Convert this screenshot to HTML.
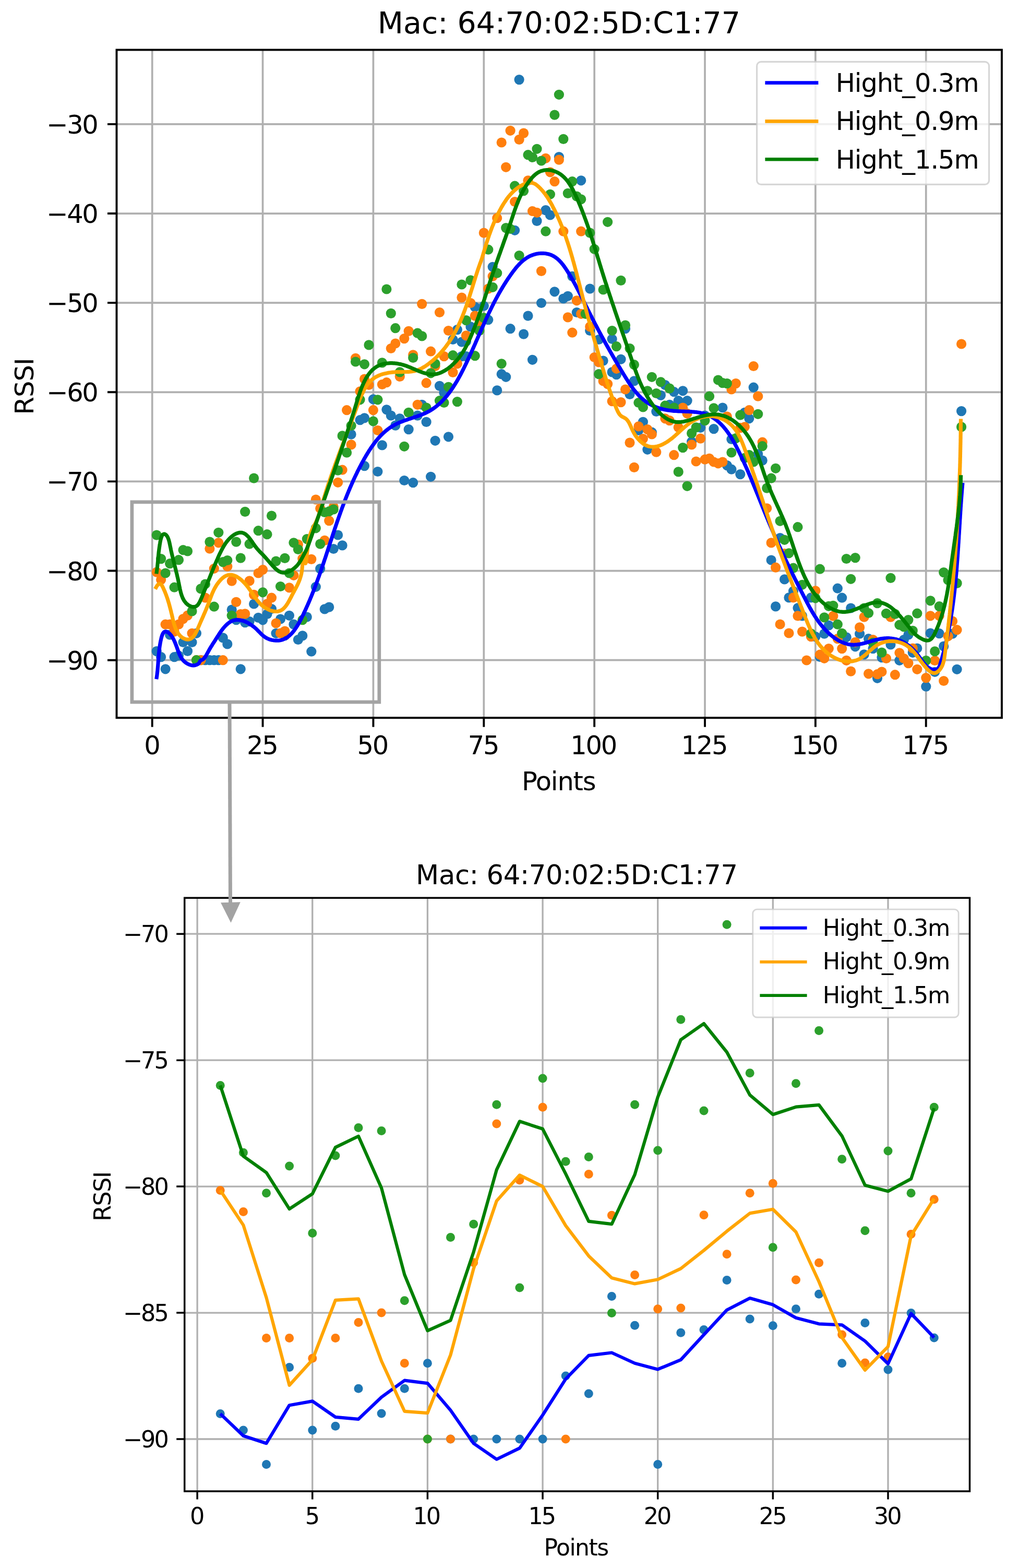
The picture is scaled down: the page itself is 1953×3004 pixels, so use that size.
<!DOCTYPE html><html><head><meta charset='utf-8'><style>html,body{margin:0;padding:0;background:#fff;width:1953px;height:3004px;overflow:hidden}</style></head><body><svg xmlns='http://www.w3.org/2000/svg' width='1953' height='3004' viewBox='0 0 1953 3004' style='display:block'>
<rect width='1953' height='3004' fill='#fff'/>
<clipPath id='c95'><rect x='223.5' y='95.5' width='1696.5' height='1279.7'/></clipPath>
<path d='M291.70 95.50V1375.20M503.56 95.50V1375.20M715.43 95.50V1375.20M927.30 95.50V1375.20M1139.16 95.50V1375.20M1351.03 95.50V1375.20M1562.89 95.50V1375.20M1774.76 95.50V1375.20M223.50 237.90H1920.00M223.50 409.03H1920.00M223.50 580.16H1920.00M223.50 751.29H1920.00M223.50 922.42H1920.00M223.50 1093.55H1920.00M223.50 1264.68H1920.00' stroke='#b0b0b0' stroke-width='3.7' fill='none'/>
<g clip-path='url(#c95)'>
<g fill='#1f77b4'><circle cx='300.2' cy='1247.6' r='9.6'/><circle cx='308.6' cy='1258.7' r='9.6'/><circle cx='317.1' cy='1281.8' r='9.6'/><circle cx='325.6' cy='1216.1' r='9.6'/><circle cx='334.1' cy='1258.7' r='9.6'/><circle cx='342.5' cy='1256.0' r='9.6'/><circle cx='351.0' cy='1230.5' r='9.6'/><circle cx='359.5' cy='1247.4' r='9.6'/><circle cx='368.0' cy='1230.5' r='9.6'/><circle cx='376.4' cy='1213.3' r='9.6'/><circle cx='384.9' cy='1264.7' r='9.6'/><circle cx='393.4' cy='1264.7' r='9.6'/><circle cx='401.9' cy='1264.7' r='9.6'/><circle cx='410.3' cy='1264.7' r='9.6'/><circle cx='418.8' cy='1264.7' r='9.6'/><circle cx='427.3' cy='1221.9' r='9.6'/><circle cx='435.8' cy='1233.9' r='9.6'/><circle cx='444.2' cy='1168.0' r='9.6'/><circle cx='452.7' cy='1187.7' r='9.6'/><circle cx='461.2' cy='1281.8' r='9.6'/><circle cx='469.7' cy='1192.6' r='9.6'/><circle cx='478.1' cy='1190.6' r='9.6'/><circle cx='486.6' cy='1157.0' r='9.6'/><circle cx='495.1' cy='1183.4' r='9.6'/><circle cx='503.6' cy='1187.8' r='9.6'/><circle cx='512.0' cy='1176.5' r='9.6'/><circle cx='520.5' cy='1166.5' r='9.6'/><circle cx='529.0' cy='1213.3' r='9.6'/><circle cx='537.5' cy='1186.0' r='9.6'/><circle cx='545.9' cy='1217.6' r='9.6'/><circle cx='554.4' cy='1179.3' r='9.6'/><circle cx='562.9' cy='1196.1' r='9.6'/><circle cx='571.4' cy='1225.5' r='9.6'/><circle cx='579.8' cy='1217.9' r='9.6'/><circle cx='588.3' cy='1182.0' r='9.6'/><circle cx='596.8' cy='1248.2' r='9.6'/><circle cx='605.3' cy='1124.3' r='9.6'/><circle cx='613.7' cy='1089.6' r='9.6'/><circle cx='622.2' cy='1166.9' r='9.6'/><circle cx='630.7' cy='1163.1' r='9.6'/><circle cx='639.2' cy='1051.5' r='9.6'/><circle cx='647.6' cy='1025.0' r='9.6'/><circle cx='656.1' cy='1044.9' r='9.6'/><circle cx='698.5' cy='892.6' r='9.6'/><circle cx='723.9' cy='903.5' r='9.6'/><circle cx='732.4' cy='852.9' r='9.6'/><circle cx='774.8' cy='920.5' r='9.6'/><circle cx='783.2' cy='822.6' r='9.6'/><circle cx='673.1' cy='832.1' r='9.6'/><circle cx='690.0' cy='804.7' r='9.6'/><circle cx='757.8' cy='815.1' r='9.6'/><circle cx='876.4' cy='631.6' r='9.6'/><circle cx='868.0' cy='650.5' r='9.6'/><circle cx='884.9' cy='655.2' r='9.6'/><circle cx='893.4' cy='682.6' r='9.6'/><circle cx='842.5' cy='739.4' r='9.6'/><circle cx='851.0' cy='752.6' r='9.6'/><circle cx='715.4' cy='764.9' r='9.6'/><circle cx='740.9' cy='784.8' r='9.6'/><circle cx='749.3' cy='796.1' r='9.6'/><circle cx='766.3' cy='801.8' r='9.6'/><circle cx='800.2' cy='796.1' r='9.6'/><circle cx='808.7' cy='775.3' r='9.6'/><circle cx='817.1' cy='808.4' r='9.6'/><circle cx='698.5' cy='800.8' r='9.6'/><circle cx='834.1' cy='844.3' r='9.6'/><circle cx='859.5' cy='836.8' r='9.6'/><circle cx='791.7' cy='924.7' r='9.6'/><circle cx='825.6' cy='913.3' r='9.6'/><circle cx='910.3' cy='588.1' r='9.6'/><circle cx='927.3' cy='586.2' r='9.6'/><circle cx='901.9' cy='625.9' r='9.6'/><circle cx='893.4' cy='654.3' r='9.6'/><circle cx='884.9' cy='682.6' r='9.6'/><circle cx='935.8' cy='612.7' r='9.6'/><circle cx='978.1' cy='629.7' r='9.6'/><circle cx='1003.6' cy='640.1' r='9.6'/><circle cx='1012.0' cy='605.1' r='9.6'/><circle cx='1037.5' cy='580.5' r='9.6'/><circle cx='1062.9' cy='558.8' r='9.6'/><circle cx='1079.8' cy='572.0' r='9.6'/><circle cx='1088.3' cy='567.3' r='9.6'/><circle cx='1105.3' cy='598.5' r='9.6'/><circle cx='1096.8' cy='529.4' r='9.6'/><circle cx='1020.5' cy='689.3' r='9.6'/><circle cx='961.2' cy='716.7' r='9.6'/><circle cx='969.7' cy='722.3' r='9.6'/><circle cx='952.7' cy='747.9' r='9.6'/><circle cx='995.1' cy='152.6' r='9.6'/><circle cx='1071.4' cy='300.5' r='9.6'/><circle cx='1113.7' cy='345.8' r='9.6'/><circle cx='1045.9' cy='402.6' r='9.6'/><circle cx='1054.4' cy='412.0' r='9.6'/><circle cx='1029.0' cy='423.4' r='9.6'/><circle cx='986.6' cy='441.3' r='9.6'/><circle cx='944.2' cy='511.3' r='9.6'/><circle cx='1130.7' cy='553.1' r='9.6'/><circle cx='1147.6' cy='650.5' r='9.6'/><circle cx='1173.1' cy='649.5' r='9.6'/><circle cx='1198.5' cy='629.7' r='9.6'/><circle cx='1156.1' cy='691.1' r='9.6'/><circle cx='1190.0' cy='688.3' r='9.6'/><circle cx='1173.1' cy='712.9' r='9.6'/><circle cx='1181.5' cy='717.6' r='9.6'/><circle cx='1215.4' cy='729.9' r='9.6'/><circle cx='1207.0' cy='755.4' r='9.6'/><circle cx='1266.3' cy='757.3' r='9.6'/><circle cx='1274.8' cy='737.5' r='9.6'/><circle cx='1291.7' cy='750.7' r='9.6'/><circle cx='1308.7' cy='748.8' r='9.6'/><circle cx='1317.1' cy='767.7' r='9.6'/><circle cx='1300.2' cy='767.7' r='9.6'/><circle cx='1283.2' cy='775.3' r='9.6'/><circle cx='1257.8' cy='788.5' r='9.6'/><circle cx='1232.4' cy='808.4' r='9.6'/><circle cx='1223.9' cy='824.5' r='9.6'/><circle cx='1249.3' cy='828.2' r='9.6'/><circle cx='1240.9' cy='861.3' r='9.6'/><circle cx='1325.6' cy='846.2' r='9.6'/><circle cx='1342.6' cy='819.3' r='9.6'/><circle cx='1130.7' cy='633.5' r='9.6'/><circle cx='1384.9' cy='781.0' r='9.6'/><circle cx='1444.2' cy='742.2' r='9.6'/><circle cx='1435.8' cy='801.8' r='9.6'/><circle cx='1427.3' cy='790.4' r='9.6'/><circle cx='1368.0' cy='821.6' r='9.6'/><circle cx='1401.9' cy='841.5' r='9.6'/><circle cx='1393.4' cy='891.6' r='9.6'/><circle cx='1401.9' cy='899.2' r='9.6'/><circle cx='1418.8' cy='908.6' r='9.6'/><circle cx='1452.7' cy='869.8' r='9.6'/><circle cx='1461.2' cy='882.1' r='9.6'/><circle cx='1351.0' cy='796.1' r='9.6'/><circle cx='1495.1' cy='1030.5' r='9.6'/><circle cx='1478.1' cy='1073.0' r='9.6'/><circle cx='1503.6' cy='1109.9' r='9.6'/><circle cx='1520.5' cy='1132.6' r='9.6'/><circle cx='1512.0' cy='1144.9' r='9.6'/><circle cx='1486.6' cy='1161.9' r='9.6'/><circle cx='1529.0' cy='1164.8' r='9.6'/><circle cx='1537.5' cy='1179.9' r='9.6'/><circle cx='1554.4' cy='1144.9' r='9.6'/><circle cx='1562.9' cy='1219.6' r='9.6'/><circle cx='1579.8' cy='1214.1' r='9.6'/><circle cx='1571.4' cy='1258.5' r='9.6'/><circle cx='1605.3' cy='1127.2' r='9.6'/><circle cx='1613.7' cy='1145.2' r='9.6'/><circle cx='1630.7' cy='1165.0' r='9.6'/><circle cx='1588.3' cy='1198.1' r='9.6'/><circle cx='1622.2' cy='1220.8' r='9.6'/><circle cx='1647.6' cy='1214.2' r='9.6'/><circle cx='1664.6' cy='1223.7' r='9.6'/><circle cx='1639.2' cy='1238.8' r='9.6'/><circle cx='1656.1' cy='1253.9' r='9.6'/><circle cx='1673.1' cy='1242.6' r='9.6'/><circle cx='1690.0' cy='1259.6' r='9.6'/><circle cx='1707.0' cy='1235.0' r='9.6'/><circle cx='1740.9' cy='1216.1' r='9.6'/><circle cx='1732.4' cy='1225.6' r='9.6'/><circle cx='1723.9' cy='1265.3' r='9.6'/><circle cx='1749.3' cy='1250.3' r='9.6'/><circle cx='1757.8' cy='1242.0' r='9.6'/><circle cx='1783.2' cy='1213.0' r='9.6'/><circle cx='1800.2' cy='1213.7' r='9.6'/><circle cx='1808.7' cy='1238.1' r='9.6'/><circle cx='1681.5' cy='1299.3' r='9.6'/><circle cx='1774.8' cy='1315.2' r='9.6'/><circle cx='1791.7' cy='1287.3' r='9.6'/><circle cx='1842.6' cy='787.6' r='9.6'/><circle cx='1825.6' cy='1214.2' r='9.6'/><circle cx='1834.1' cy='1282.3' r='9.6'/></g>
<g fill='#ff7f0e'><circle cx='300.2' cy='1096.1' r='9.6'/><circle cx='308.6' cy='1110.7' r='9.6'/><circle cx='317.1' cy='1196.2' r='9.6'/><circle cx='325.6' cy='1196.2' r='9.6'/><circle cx='334.1' cy='1209.9' r='9.6'/><circle cx='342.5' cy='1196.2' r='9.6'/><circle cx='351.0' cy='1185.6' r='9.6'/><circle cx='359.5' cy='1179.1' r='9.6'/><circle cx='368.0' cy='1213.3' r='9.6'/><circle cx='376.4' cy='1264.7' r='9.6'/><circle cx='384.9' cy='1264.7' r='9.6'/><circle cx='393.4' cy='1145.1' r='9.6'/><circle cx='401.9' cy='1051.1' r='9.6'/><circle cx='410.3' cy='1089.3' r='9.6'/><circle cx='418.8' cy='1039.8' r='9.6'/><circle cx='427.3' cy='1264.7' r='9.6'/><circle cx='435.8' cy='1085.2' r='9.6'/><circle cx='444.2' cy='1113.1' r='9.6'/><circle cx='452.7' cy='1153.4' r='9.6'/><circle cx='461.2' cy='1176.5' r='9.6'/><circle cx='469.7' cy='1175.9' r='9.6'/><circle cx='478.1' cy='1112.9' r='9.6'/><circle cx='486.6' cy='1139.4' r='9.6'/><circle cx='495.1' cy='1098.0' r='9.6'/><circle cx='503.6' cy='1091.5' r='9.6'/><circle cx='512.0' cy='1156.9' r='9.6'/><circle cx='520.5' cy='1145.2' r='9.6'/><circle cx='529.0' cy='1194.0' r='9.6'/><circle cx='537.5' cy='1213.0' r='9.6'/><circle cx='545.9' cy='1209.1' r='9.6'/><circle cx='554.4' cy='1125.9' r='9.6'/><circle cx='562.9' cy='1102.3' r='9.6'/><circle cx='579.8' cy='1070.4' r='9.6'/><circle cx='596.8' cy='1071.4' r='9.6'/><circle cx='571.4' cy='1043.0' r='9.6'/><circle cx='622.2' cy='1035.4' r='9.6'/><circle cx='630.7' cy='997.6' r='9.6'/><circle cx='605.3' cy='957.0' r='9.6'/><circle cx='613.7' cy='974.0' r='9.6'/><circle cx='639.2' cy='971.1' r='9.6'/><circle cx='647.6' cy='924.3' r='9.6'/><circle cx='656.1' cy='900.2' r='9.6'/><circle cx='673.1' cy='851.9' r='9.6'/><circle cx='723.9' cy='824.5' r='9.6'/><circle cx='664.6' cy='785.7' r='9.6'/><circle cx='681.5' cy='686.4' r='9.6'/><circle cx='690.0' cy='749.8' r='9.6'/><circle cx='698.5' cy='726.1' r='9.6'/><circle cx='707.0' cy='737.5' r='9.6'/><circle cx='715.4' cy='785.7' r='9.6'/><circle cx='732.4' cy='736.5' r='9.6'/><circle cx='740.9' cy='732.7' r='9.6'/><circle cx='749.3' cy='667.5' r='9.6'/><circle cx='757.8' cy='658.0' r='9.6'/><circle cx='766.3' cy='721.4' r='9.6'/><circle cx='774.8' cy='648.6' r='9.6'/><circle cx='783.2' cy='634.4' r='9.6'/><circle cx='791.7' cy='679.8' r='9.6'/><circle cx='800.2' cy='775.3' r='9.6'/><circle cx='808.7' cy='582.4' r='9.6'/><circle cx='817.1' cy='733.7' r='9.6'/><circle cx='825.6' cy='673.2' r='9.6'/><circle cx='834.1' cy='701.5' r='9.6'/><circle cx='842.5' cy='598.5' r='9.6'/><circle cx='851.0' cy='682.6' r='9.6'/><circle cx='859.5' cy='633.5' r='9.6'/><circle cx='868.0' cy='713.4' r='9.6'/><circle cx='876.4' cy='696.8' r='9.6'/><circle cx='884.9' cy='570.1' r='9.6'/><circle cx='944.2' cy='529.4' r='9.6'/><circle cx='901.9' cy='580.5' r='9.6'/><circle cx='935.8' cy='553.1' r='9.6'/><circle cx='910.3' cy='605.1' r='9.6'/><circle cx='918.8' cy='622.1' r='9.6'/><circle cx='893.4' cy='642.9' r='9.6'/><circle cx='1037.5' cy='519.4' r='9.6'/><circle cx='1105.3' cy='575.8' r='9.6'/><circle cx='1088.3' cy='607.9' r='9.6'/><circle cx='1096.8' cy='637.2' r='9.6'/><circle cx='978.1' cy='250.3' r='9.6'/><circle cx='1003.6' cy='255.1' r='9.6'/><circle cx='995.1' cy='267.4' r='9.6'/><circle cx='961.2' cy='273.0' r='9.6'/><circle cx='1045.9' cy='303.3' r='9.6'/><circle cx='1071.4' cy='306.1' r='9.6'/><circle cx='969.7' cy='320.3' r='9.6'/><circle cx='1054.4' cy='329.8' r='9.6'/><circle cx='1062.9' cy='347.7' r='9.6'/><circle cx='1012.0' cy='345.8' r='9.6'/><circle cx='986.6' cy='386.5' r='9.6'/><circle cx='1020.5' cy='404.5' r='9.6'/><circle cx='1029.0' cy='407.3' r='9.6'/><circle cx='952.7' cy='417.7' r='9.6'/><circle cx='927.3' cy='446.1' r='9.6'/><circle cx='1079.8' cy='443.2' r='9.6'/><circle cx='1113.7' cy='443.2' r='9.6'/><circle cx='1113.7' cy='601.3' r='9.6'/><circle cx='1130.7' cy='625.9' r='9.6'/><circle cx='1139.2' cy='684.5' r='9.6'/><circle cx='1147.6' cy='694.0' r='9.6'/><circle cx='1181.5' cy='706.3' r='9.6'/><circle cx='1156.1' cy='729.9' r='9.6'/><circle cx='1164.6' cy='735.6' r='9.6'/><circle cx='1198.5' cy='746.0' r='9.6'/><circle cx='1173.1' cy='768.7' r='9.6'/><circle cx='1190.0' cy='770.6' r='9.6'/><circle cx='1308.7' cy='781.0' r='9.6'/><circle cx='1317.1' cy='792.3' r='9.6'/><circle cx='1274.8' cy='801.8' r='9.6'/><circle cx='1283.2' cy='805.6' r='9.6'/><circle cx='1300.2' cy='818.8' r='9.6'/><circle cx='1223.9' cy='816.9' r='9.6'/><circle cx='1240.9' cy='822.6' r='9.6'/><circle cx='1249.3' cy='832.0' r='9.6'/><circle cx='1232.4' cy='840.5' r='9.6'/><circle cx='1207.0' cy='848.1' r='9.6'/><circle cx='1257.8' cy='866.1' r='9.6'/><circle cx='1291.7' cy='871.7' r='9.6'/><circle cx='1325.6' cy='851.9' r='9.6'/><circle cx='1342.6' cy='840.1' r='9.6'/><circle cx='1334.1' cy='884.0' r='9.6'/><circle cx='1215.4' cy='895.4' r='9.6'/><circle cx='1444.2' cy='701.5' r='9.6'/><circle cx='1410.3' cy='734.6' r='9.6'/><circle cx='1401.9' cy='746.0' r='9.6'/><circle cx='1452.7' cy='759.2' r='9.6'/><circle cx='1435.8' cy='785.7' r='9.6'/><circle cx='1393.4' cy='798.0' r='9.6'/><circle cx='1427.3' cy='817.8' r='9.6'/><circle cx='1418.8' cy='819.7' r='9.6'/><circle cx='1351.0' cy='880.2' r='9.6'/><circle cx='1359.5' cy='878.4' r='9.6'/><circle cx='1368.0' cy='885.0' r='9.6'/><circle cx='1376.4' cy='887.8' r='9.6'/><circle cx='1384.9' cy='885.0' r='9.6'/><circle cx='1461.2' cy='847.2' r='9.6'/><circle cx='1469.7' cy='973.8' r='9.6'/><circle cx='1478.1' cy='1039.9' r='9.6'/><circle cx='1503.6' cy='1060.7' r='9.6'/><circle cx='1486.6' cy='1087.2' r='9.6'/><circle cx='1520.5' cy='1144.9' r='9.6'/><circle cx='1529.0' cy='1179.9' r='9.6'/><circle cx='1495.1' cy='1196.0' r='9.6'/><circle cx='1512.0' cy='1213.0' r='9.6'/><circle cx='1537.5' cy='1210.1' r='9.6'/><circle cx='1554.4' cy='1219.6' r='9.6'/><circle cx='1562.9' cy='1131.8' r='9.6'/><circle cx='1571.4' cy='1254.2' r='9.6'/><circle cx='1579.8' cy='1261.3' r='9.6'/><circle cx='1545.9' cy='1265.0' r='9.6'/><circle cx='1596.8' cy='1180.2' r='9.6'/><circle cx='1656.1' cy='1182.1' r='9.6'/><circle cx='1647.6' cy='1201.9' r='9.6'/><circle cx='1707.0' cy='1182.1' r='9.6'/><circle cx='1783.2' cy='1179.8' r='9.6'/><circle cx='1800.2' cy='1179.8' r='9.6'/><circle cx='1588.3' cy='1242.6' r='9.6'/><circle cx='1613.7' cy='1242.6' r='9.6'/><circle cx='1605.3' cy='1223.7' r='9.6'/><circle cx='1639.2' cy='1230.3' r='9.6'/><circle cx='1673.1' cy='1225.6' r='9.6'/><circle cx='1622.2' cy='1265.3' r='9.6'/><circle cx='1630.7' cy='1286.1' r='9.6'/><circle cx='1664.6' cy='1290.8' r='9.6'/><circle cx='1681.5' cy='1291.7' r='9.6'/><circle cx='1690.0' cy='1287.0' r='9.6'/><circle cx='1715.4' cy='1292.7' r='9.6'/><circle cx='1698.5' cy='1261.5' r='9.6'/><circle cx='1723.9' cy='1250.8' r='9.6'/><circle cx='1732.4' cy='1261.5' r='9.6'/><circle cx='1740.9' cy='1270.6' r='9.6'/><circle cx='1749.3' cy='1242.0' r='9.6'/><circle cx='1757.8' cy='1282.3' r='9.6'/><circle cx='1774.8' cy='1298.6' r='9.6'/><circle cx='1791.7' cy='1265.5' r='9.6'/><circle cx='1808.7' cy='1304.5' r='9.6'/><circle cx='1842.6' cy='659.0' r='9.6'/><circle cx='1825.6' cy='1190.0' r='9.6'/><circle cx='1834.1' cy='1206.7' r='9.6'/><circle cx='1817.1' cy='1218.8' r='9.6'/></g>
<g fill='#2ca02c'><circle cx='300.2' cy='1025.1' r='9.6'/><circle cx='308.6' cy='1070.6' r='9.6'/><circle cx='317.1' cy='1098.0' r='9.6'/><circle cx='325.6' cy='1079.7' r='9.6'/><circle cx='334.1' cy='1125.2' r='9.6'/><circle cx='342.5' cy='1072.7' r='9.6'/><circle cx='351.0' cy='1053.7' r='9.6'/><circle cx='359.5' cy='1055.9' r='9.6'/><circle cx='368.0' cy='1170.9' r='9.6'/><circle cx='376.4' cy='1264.7' r='9.6'/><circle cx='384.9' cy='1127.9' r='9.6'/><circle cx='393.4' cy='1119.0' r='9.6'/><circle cx='401.9' cy='1038.1' r='9.6'/><circle cx='410.3' cy='1162.2' r='9.6'/><circle cx='418.8' cy='1020.3' r='9.6'/><circle cx='427.3' cy='1076.6' r='9.6'/><circle cx='435.8' cy='1073.5' r='9.6'/><circle cx='444.2' cy='1179.3' r='9.6'/><circle cx='452.7' cy='1038.1' r='9.6'/><circle cx='461.2' cy='1069.1' r='9.6'/><circle cx='469.7' cy='980.4' r='9.6'/><circle cx='478.1' cy='1042.2' r='9.6'/><circle cx='486.6' cy='916.1' r='9.6'/><circle cx='495.1' cy='1016.7' r='9.6'/><circle cx='503.6' cy='1134.8' r='9.6'/><circle cx='512.0' cy='1023.7' r='9.6'/><circle cx='520.5' cy='988.0' r='9.6'/><circle cx='529.0' cy='1075.1' r='9.6'/><circle cx='537.5' cy='1123.5' r='9.6'/><circle cx='545.9' cy='1069.4' r='9.6'/><circle cx='554.4' cy='1098.0' r='9.6'/><circle cx='562.9' cy='1039.8' r='9.6'/><circle cx='571.4' cy='1052.5' r='9.6'/><circle cx='588.3' cy='1032.6' r='9.6'/><circle cx='579.8' cy='1187.7' r='9.6'/><circle cx='605.3' cy='1011.8' r='9.6'/><circle cx='613.7' cy='1042.1' r='9.6'/><circle cx='622.2' cy='981.5' r='9.6'/><circle cx='630.7' cy='979.7' r='9.6'/><circle cx='639.2' cy='975.9' r='9.6'/><circle cx='647.6' cy='901.1' r='9.6'/><circle cx='664.6' cy='867.1' r='9.6'/><circle cx='656.1' cy='834.9' r='9.6'/><circle cx='673.1' cy='815.5' r='9.6'/><circle cx='715.4' cy='807.0' r='9.6'/><circle cx='774.8' cy='855.3' r='9.6'/><circle cx='681.5' cy='693.0' r='9.6'/><circle cx='690.0' cy='765.8' r='9.6'/><circle cx='698.5' cy='697.8' r='9.6'/><circle cx='707.0' cy='660.9' r='9.6'/><circle cx='723.9' cy='765.8' r='9.6'/><circle cx='732.4' cy='694.9' r='9.6'/><circle cx='740.9' cy='554.0' r='9.6'/><circle cx='749.3' cy='600.4' r='9.6'/><circle cx='757.8' cy='628.7' r='9.6'/><circle cx='766.3' cy='712.9' r='9.6'/><circle cx='783.2' cy='790.4' r='9.6'/><circle cx='791.7' cy='685.5' r='9.6'/><circle cx='800.2' cy='638.2' r='9.6'/><circle cx='808.7' cy='643.9' r='9.6'/><circle cx='817.1' cy='781.0' r='9.6'/><circle cx='825.6' cy='714.8' r='9.6'/><circle cx='834.1' cy='696.8' r='9.6'/><circle cx='842.5' cy='767.7' r='9.6'/><circle cx='851.0' cy='771.5' r='9.6'/><circle cx='859.5' cy='741.3' r='9.6'/><circle cx='868.0' cy='680.7' r='9.6'/><circle cx='876.4' cy='769.6' r='9.6'/><circle cx='884.9' cy='545.0' r='9.6'/><circle cx='901.9' cy='536.9' r='9.6'/><circle cx='952.7' cy='523.2' r='9.6'/><circle cx='944.2' cy='550.3' r='9.6'/><circle cx='893.4' cy='613.6' r='9.6'/><circle cx='927.3' cy='608.9' r='9.6'/><circle cx='918.8' cy='633.5' r='9.6'/><circle cx='910.3' cy='681.7' r='9.6'/><circle cx='961.2' cy='696.8' r='9.6'/><circle cx='1071.4' cy='181.3' r='9.6'/><circle cx='1062.9' cy='220.1' r='9.6'/><circle cx='1079.8' cy='266.4' r='9.6'/><circle cx='1029.0' cy='285.3' r='9.6'/><circle cx='1012.0' cy='296.7' r='9.6'/><circle cx='1020.5' cy='301.4' r='9.6'/><circle cx='1037.5' cy='308.0' r='9.6'/><circle cx='986.6' cy='356.2' r='9.6'/><circle cx='1003.6' cy='365.7' r='9.6'/><circle cx='1054.4' cy='372.3' r='9.6'/><circle cx='1096.8' cy='347.7' r='9.6'/><circle cx='1088.3' cy='370.4' r='9.6'/><circle cx='1105.3' cy='376.1' r='9.6'/><circle cx='1113.7' cy='381.8' r='9.6'/><circle cx='969.7' cy='436.6' r='9.6'/><circle cx='978.1' cy='438.5' r='9.6'/><circle cx='1045.9' cy='443.2' r='9.6'/><circle cx='935.8' cy='478.2' r='9.6'/><circle cx='995.1' cy='489.6' r='9.6'/><circle cx='1164.6' cy='425.3' r='9.6'/><circle cx='1130.7' cy='446.1' r='9.6'/><circle cx='1139.2' cy='477.3' r='9.6'/><circle cx='1190.0' cy='537.4' r='9.6'/><circle cx='1156.1' cy='555.0' r='9.6'/><circle cx='1122.2' cy='601.3' r='9.6'/><circle cx='1173.1' cy='633.5' r='9.6'/><circle cx='1198.5' cy='623.1' r='9.6'/><circle cx='1181.5' cy='663.7' r='9.6'/><circle cx='1207.0' cy='667.5' r='9.6'/><circle cx='1215.4' cy='698.7' r='9.6'/><circle cx='1147.6' cy='716.7' r='9.6'/><circle cx='1249.3' cy='722.3' r='9.6'/><circle cx='1266.3' cy='731.8' r='9.6'/><circle cx='1283.2' cy='744.1' r='9.6'/><circle cx='1240.9' cy='748.8' r='9.6'/><circle cx='1257.8' cy='753.5' r='9.6'/><circle cx='1223.9' cy='771.5' r='9.6'/><circle cx='1232.4' cy='780.0' r='9.6'/><circle cx='1274.8' cy='777.2' r='9.6'/><circle cx='1291.7' cy='781.0' r='9.6'/><circle cx='1325.6' cy='830.1' r='9.6'/><circle cx='1334.1' cy='818.8' r='9.6'/><circle cx='1308.7' cy='857.6' r='9.6'/><circle cx='1300.2' cy='903.9' r='9.6'/><circle cx='1317.1' cy='931.3' r='9.6'/><circle cx='1376.4' cy='728.0' r='9.6'/><circle cx='1384.9' cy='733.7' r='9.6'/><circle cx='1393.4' cy='734.6' r='9.6'/><circle cx='1359.5' cy='759.2' r='9.6'/><circle cx='1368.0' cy='781.9' r='9.6'/><circle cx='1418.8' cy='795.2' r='9.6'/><circle cx='1452.7' cy='793.3' r='9.6'/><circle cx='1410.3' cy='839.6' r='9.6'/><circle cx='1401.9' cy='867.0' r='9.6'/><circle cx='1435.8' cy='871.7' r='9.6'/><circle cx='1427.3' cy='877.4' r='9.6'/><circle cx='1444.2' cy='885.0' r='9.6'/><circle cx='1461.2' cy='854.7' r='9.6'/><circle cx='1486.6' cy='897.3' r='9.6'/><circle cx='1478.1' cy='916.2' r='9.6'/><circle cx='1469.7' cy='935.1' r='9.6'/><circle cx='1351.0' cy='805.6' r='9.6'/><circle cx='1495.1' cy='998.3' r='9.6'/><circle cx='1529.0' cy='1009.7' r='9.6'/><circle cx='1503.6' cy='1034.3' r='9.6'/><circle cx='1512.0' cy='1059.8' r='9.6'/><circle cx='1520.5' cy='1088.2' r='9.6'/><circle cx='1537.5' cy='1120.3' r='9.6'/><circle cx='1562.9' cy='1145.8' r='9.6'/><circle cx='1571.4' cy='1090.2' r='9.6'/><circle cx='1579.8' cy='1182.9' r='9.6'/><circle cx='1554.4' cy='1213.9' r='9.6'/><circle cx='1622.2' cy='1070.5' r='9.6'/><circle cx='1639.2' cy='1068.6' r='9.6'/><circle cx='1630.7' cy='1109.3' r='9.6'/><circle cx='1707.0' cy='1107.4' r='9.6'/><circle cx='1783.2' cy='1150.8' r='9.6'/><circle cx='1800.2' cy='1161.7' r='9.6'/><circle cx='1808.7' cy='1096.6' r='9.6'/><circle cx='1596.8' cy='1160.3' r='9.6'/><circle cx='1588.3' cy='1161.3' r='9.6'/><circle cx='1605.3' cy='1196.2' r='9.6'/><circle cx='1613.7' cy='1213.3' r='9.6'/><circle cx='1664.6' cy='1174.5' r='9.6'/><circle cx='1656.1' cy='1165.0' r='9.6'/><circle cx='1681.5' cy='1155.6' r='9.6'/><circle cx='1698.5' cy='1175.4' r='9.6'/><circle cx='1715.4' cy='1176.4' r='9.6'/><circle cx='1740.9' cy='1187.6' r='9.6'/><circle cx='1757.8' cy='1175.2' r='9.6'/><circle cx='1723.9' cy='1197.2' r='9.6'/><circle cx='1732.4' cy='1201.0' r='9.6'/><circle cx='1749.3' cy='1208.4' r='9.6'/><circle cx='1673.1' cy='1231.2' r='9.6'/><circle cx='1690.0' cy='1250.1' r='9.6'/><circle cx='1774.8' cy='1265.5' r='9.6'/><circle cx='1791.7' cy='1247.9' r='9.6'/><circle cx='1842.6' cy='817.9' r='9.6'/><circle cx='1817.1' cy='1111.3' r='9.6'/><circle cx='1834.1' cy='1117.4' r='9.6'/></g>
<path d='M299.7 1301.1 L300.1 1299.0 L300.4 1296.9 L300.7 1294.9 L301.0 1292.9 L301.2 1290.8 L301.4 1288.9 L301.7 1286.9 L301.9 1284.9 L302.1 1283.0 L302.2 1281.1 L302.4 1279.2 L302.5 1277.3 L302.7 1275.4 L302.8 1273.5 L303.0 1271.6 L303.1 1269.8 L303.2 1267.9 L303.4 1266.0 L303.5 1264.2 L303.6 1262.3 L303.8 1260.4 L303.9 1258.5 L304.1 1256.7 L304.2 1254.8 L304.4 1252.8 L304.6 1250.9 L304.8 1249.0 L305.0 1247.0 L305.2 1245.1 L305.5 1243.1 L305.7 1241.1 L306.0 1239.0 L306.3 1237.0 L306.7 1234.9 L307.0 1232.7 L307.4 1230.6 L307.8 1228.4 L308.3 1226.2 L308.8 1224.0 L309.3 1221.8 L309.9 1219.7 L310.5 1217.7 L311.2 1215.9 L312.0 1214.2 L312.8 1212.7 L313.8 1211.5 L314.8 1210.6 L316.0 1210.1 L317.3 1209.9 L318.6 1210.0 L320.1 1210.5 L321.5 1211.3 L322.9 1212.2 L324.2 1213.2 L325.5 1214.4 L326.7 1215.8 L327.9 1217.2 L329.0 1218.7 L330.1 1220.4 L331.1 1222.1 L332.1 1223.9 L333.1 1225.8 L334.0 1227.7 L334.8 1229.6 L335.7 1231.6 L336.5 1233.7 L337.3 1235.7 L338.0 1237.7 L338.8 1239.7 L339.5 1241.7 L340.2 1243.7 L340.9 1245.7 L341.6 1247.6 L342.3 1249.5 L343.0 1251.3 L343.7 1253.1 L344.5 1254.9 L345.4 1256.6 L346.2 1258.3 L347.2 1259.9 L348.2 1261.5 L349.3 1263.0 L350.5 1264.4 L351.7 1265.8 L353.1 1267.2 L354.6 1268.4 L356.1 1269.6 L357.7 1270.7 L359.4 1271.7 L361.1 1272.5 L362.9 1273.3 L364.6 1273.9 L366.4 1274.4 L368.1 1274.7 L369.8 1274.9 L371.4 1274.9 L373.0 1274.7 L374.6 1274.3 L376.0 1273.9 L377.2 1273.4 L378.4 1272.8 L379.3 1272.3 L380.2 1271.7 L380.9 1271.0 L381.4 1270.3 L382.0 1269.5 L382.4 1268.7 L382.8 1267.9 L383.2 1267.2 L383.6 1266.4 L384.0 1265.8 L384.4 1265.3 L384.9 1265.0 L385.5 1264.8 L386.2 1264.6 L386.9 1264.4 L387.7 1264.0 L388.6 1263.4 L389.6 1262.7 L390.6 1261.8 L391.6 1260.7 L392.7 1259.3 L393.8 1257.8 L394.9 1256.1 L395.9 1254.2 L397.0 1252.3 L398.1 1250.3 L399.1 1248.4 L400.2 1246.4 L401.2 1244.6 L402.2 1242.9 L403.2 1241.2 L404.2 1239.5 L405.2 1237.9 L406.2 1236.4 L407.1 1234.8 L408.1 1233.3 L409.1 1231.8 L410.1 1230.3 L411.1 1228.7 L412.1 1227.2 L413.1 1225.5 L414.1 1223.9 L415.2 1222.2 L416.3 1220.5 L417.4 1218.8 L418.5 1217.1 L419.6 1215.3 L420.7 1213.6 L421.9 1211.9 L423.1 1210.1 L424.3 1208.4 L425.6 1206.7 L426.8 1205.1 L428.1 1203.5 L429.4 1201.9 L430.8 1200.4 L432.2 1198.9 L433.6 1197.5 L435.0 1196.1 L436.5 1194.9 L438.0 1193.7 L439.5 1192.6 L441.0 1191.5 L442.6 1190.6 L444.3 1189.8 L445.9 1189.1 L447.7 1188.5 L449.4 1188.1 L451.2 1187.8 L453.0 1187.6 L454.9 1187.5 L456.7 1187.6 L458.7 1187.8 L460.6 1188.1 L462.5 1188.5 L464.5 1189.0 L466.4 1189.6 L468.4 1190.3 L470.3 1191.1 L472.2 1191.9 L474.1 1192.8 L476.0 1193.8 L477.8 1194.9 L479.6 1196.0 L481.3 1197.1 L483.0 1198.3 L484.6 1199.5 L486.2 1200.7 L487.7 1201.9 L489.2 1203.2 L490.5 1204.4 L491.9 1205.7 L493.2 1207.0 L494.4 1208.3 L495.7 1209.5 L496.9 1210.8 L498.1 1212.0 L499.3 1213.2 L500.5 1214.4 L501.7 1215.6 L502.9 1216.7 L504.2 1217.8 L505.5 1218.8 L506.8 1219.8 L508.2 1220.8 L509.6 1221.7 L511.1 1222.5 L512.6 1223.3 L514.2 1224.0 L515.9 1224.7 L517.6 1225.2 L519.3 1225.7 L521.1 1226.2 L522.9 1226.5 L524.7 1226.8 L526.6 1227.0 L528.4 1227.2 L530.3 1227.2 L532.1 1227.2 L533.9 1227.1 L535.7 1226.9 L537.5 1226.6 L539.2 1226.2 L540.9 1225.7 L542.5 1225.2 L544.1 1224.5 L545.7 1223.8 L547.2 1223.0 L548.7 1222.1 L550.2 1221.2 L551.7 1220.2 L553.1 1219.1 L554.4 1218.0 L555.8 1216.8 L557.1 1215.5 L558.4 1214.2 L559.7 1212.8 L560.9 1211.4 L562.1 1209.9 L563.3 1208.4 L564.5 1206.9 L565.6 1205.3 L566.7 1203.6 L567.8 1202.0 L568.9 1200.3 L570.0 1198.5 L571.0 1196.8 L572.1 1195.0 L573.1 1193.2 L574.1 1191.4 L575.0 1189.6 L576.0 1187.7 L577.0 1185.9 L577.9 1184.0 L578.8 1182.1 L579.7 1180.2 L580.7 1178.4 L581.6 1176.5 L582.4 1174.6 L583.3 1172.7 L584.2 1170.9 L585.1 1169.0 L585.9 1167.2 L586.8 1165.3 L587.6 1163.4 L588.4 1161.6 L589.3 1159.7 L590.1 1157.9 L590.9 1156.0 L591.7 1154.2 L592.5 1152.3 L593.3 1150.5 L594.1 1148.6 L594.8 1146.8 L595.6 1144.9 L596.4 1143.1 L597.1 1141.3 L597.9 1139.4 L598.6 1137.6 L599.3 1135.8 L600.1 1133.9 L600.8 1132.1 L601.5 1130.3 L602.2 1128.4 L602.9 1126.6 L603.6 1124.8 L604.3 1122.9 L605.0 1121.1 L605.7 1119.3 L606.4 1117.5 L607.1 1115.6 L607.7 1113.8 L608.4 1112.0 L609.1 1110.1 L609.7 1108.3 L610.4 1106.5 L611.1 1104.7 L611.7 1102.8 L612.4 1101.0 L613.0 1099.2 L613.6 1097.4 L614.3 1095.5 L614.9 1093.7 L615.5 1091.9 L616.2 1090.1 L616.8 1088.2 L617.4 1086.4 L618.0 1084.6 L618.7 1082.8 L619.3 1080.9 L619.9 1079.1 L620.5 1077.3 L621.1 1075.5 L621.7 1073.6 L622.3 1071.8 L623.0 1070.0 L623.6 1068.1 L624.2 1066.3 L624.8 1064.5 L625.4 1062.6 L626.0 1060.8 L626.6 1058.9 L627.2 1057.1 L627.8 1055.3 L628.4 1053.4 L629.0 1051.6 L629.6 1049.7 L630.2 1047.9 L630.8 1046.0 L631.4 1044.2 L632.0 1042.4 L632.6 1040.5 L633.2 1038.7 L633.8 1036.8 L634.5 1035.0 L635.1 1033.1 L635.7 1031.3 L636.3 1029.4 L636.9 1027.6 L637.5 1025.7 L638.1 1023.8 L638.7 1022.0 L639.3 1020.1 L640.0 1018.3 L640.6 1016.4 L641.2 1014.6 L641.8 1012.7 L642.4 1010.9 L643.1 1009.0 L643.7 1007.2 L644.3 1005.3 L645.0 1003.5 L645.6 1001.6 L646.2 999.7 L646.9 997.9 L647.5 996.0 L648.2 994.2 L648.8 992.3 L649.5 990.5 L650.1 988.6 L650.8 986.8 L651.4 984.9 L652.1 983.1 L652.7 981.2 L653.4 979.4 L654.1 977.5 L654.8 975.7 L655.4 973.8 L656.1 972.0 L656.8 970.2 L657.5 968.3 L658.2 966.5 L658.9 964.6 L659.6 962.8 L660.3 960.9 L661.0 959.1 L661.7 957.3 L662.4 955.4 L663.1 953.6 L663.9 951.8 L664.6 949.9 L665.3 948.1 L666.1 946.3 L666.8 944.5 L667.6 942.6 L668.3 940.8 L669.1 939.0 L669.9 937.2 L670.6 935.3 L671.4 933.5 L672.2 931.7 L673.0 929.9 L673.8 928.1 L674.6 926.3 L675.4 924.5 L676.2 922.6 L677.0 920.8 L677.8 919.0 L678.7 917.2 L679.5 915.4 L680.3 913.6 L681.2 911.9 L682.0 910.1 L682.9 908.3 L683.8 906.5 L684.6 904.7 L685.5 902.9 L686.4 901.1 L687.3 899.4 L688.2 897.6 L689.1 895.8 L690.0 894.0 L691.0 892.3 L691.9 890.5 L692.8 888.7 L693.8 887.0 L694.7 885.2 L695.7 883.5 L696.7 881.7 L697.6 880.0 L698.6 878.2 L699.6 876.5 L700.6 874.8 L701.6 873.0 L702.7 871.3 L703.7 869.6 L704.7 867.9 L705.8 866.2 L706.8 864.5 L707.9 862.8 L709.0 861.2 L710.1 859.5 L711.2 857.8 L712.3 856.2 L713.5 854.6 L714.6 853.0 L715.8 851.4 L716.9 849.8 L718.1 848.2 L719.3 846.7 L720.5 845.1 L721.7 843.6 L723.0 842.1 L724.2 840.6 L725.5 839.2 L726.8 837.7 L728.1 836.3 L729.4 834.9 L730.7 833.5 L732.1 832.2 L733.5 830.9 L734.8 829.5 L736.2 828.3 L737.7 827.0 L739.1 825.8 L740.5 824.6 L742.0 823.4 L743.5 822.2 L745.0 821.1 L746.5 820.0 L748.1 818.9 L749.7 817.9 L751.3 816.9 L752.9 815.9 L754.5 815.0 L756.1 814.1 L757.8 813.2 L759.5 812.3 L761.2 811.5 L762.9 810.7 L764.7 809.9 L766.4 809.2 L768.2 808.5 L770.0 807.8 L771.8 807.1 L773.6 806.4 L775.4 805.7 L777.2 805.1 L779.0 804.5 L780.9 803.8 L782.7 803.2 L784.5 802.6 L786.4 802.0 L788.2 801.4 L790.1 800.8 L791.9 800.2 L793.7 799.5 L795.6 798.9 L797.4 798.3 L799.2 797.7 L801.1 797.0 L802.9 796.4 L804.7 795.7 L806.5 795.1 L808.3 794.4 L810.0 793.6 L811.8 792.9 L813.5 792.2 L815.3 791.4 L817.0 790.6 L818.7 789.7 L820.3 788.9 L822.0 788.0 L823.6 787.1 L825.2 786.1 L826.8 785.1 L828.4 784.1 L830.0 783.1 L831.5 782.0 L833.0 780.9 L834.5 779.8 L836.0 778.7 L837.4 777.5 L838.9 776.3 L840.3 775.1 L841.7 773.8 L843.1 772.6 L844.5 771.3 L845.9 770.0 L847.2 768.6 L848.5 767.3 L849.8 765.9 L851.1 764.5 L852.4 763.0 L853.7 761.6 L854.9 760.1 L856.2 758.7 L857.4 757.2 L858.6 755.6 L859.8 754.1 L861.0 752.6 L862.1 751.0 L863.3 749.4 L864.4 747.8 L865.5 746.2 L866.7 744.6 L867.8 742.9 L868.8 741.3 L869.9 739.6 L871.0 737.9 L872.0 736.2 L873.1 734.5 L874.1 732.8 L875.2 731.1 L876.2 729.4 L877.2 727.6 L878.2 725.9 L879.1 724.1 L880.1 722.4 L881.1 720.6 L882.0 718.8 L883.0 717.1 L883.9 715.3 L884.9 713.5 L885.8 711.7 L886.7 709.9 L887.6 708.1 L888.5 706.3 L889.4 704.5 L890.3 702.7 L891.2 700.8 L892.1 699.0 L893.0 697.2 L893.8 695.4 L894.7 693.6 L895.5 691.8 L896.4 690.0 L897.2 688.2 L898.1 686.4 L898.9 684.6 L899.7 682.8 L900.6 681.0 L901.4 679.1 L902.2 677.3 L903.0 675.5 L903.9 673.7 L904.7 671.9 L905.5 670.1 L906.3 668.3 L907.1 666.5 L907.9 664.7 L908.7 662.9 L909.5 661.2 L910.3 659.4 L911.1 657.6 L911.8 655.8 L912.6 654.0 L913.4 652.2 L914.2 650.4 L915.0 648.6 L915.8 646.8 L916.6 645.0 L917.3 643.3 L918.1 641.5 L918.9 639.7 L919.7 637.9 L920.5 636.1 L921.3 634.4 L922.0 632.6 L922.8 630.8 L923.6 629.0 L924.4 627.3 L925.2 625.5 L926.0 623.7 L926.8 622.0 L927.6 620.2 L928.4 618.4 L929.2 616.7 L930.0 614.9 L930.8 613.1 L931.6 611.4 L932.4 609.6 L933.2 607.9 L934.0 606.1 L934.8 604.4 L935.6 602.6 L936.5 600.9 L937.3 599.1 L938.1 597.4 L939.0 595.6 L939.8 593.9 L940.7 592.2 L941.5 590.4 L942.4 588.7 L943.2 587.0 L944.1 585.2 L945.0 583.5 L945.8 581.8 L946.7 580.0 L947.6 578.3 L948.5 576.6 L949.4 574.9 L950.3 573.2 L951.2 571.5 L952.2 569.7 L953.1 568.0 L954.0 566.3 L955.0 564.6 L955.9 562.9 L956.9 561.2 L957.9 559.5 L958.8 557.8 L959.8 556.1 L960.8 554.5 L961.8 552.8 L962.8 551.1 L963.8 549.4 L964.9 547.7 L965.9 546.0 L966.9 544.4 L968.0 542.7 L969.1 541.0 L970.1 539.4 L971.2 537.7 L972.3 536.0 L973.4 534.4 L974.6 532.7 L975.7 531.1 L976.8 529.4 L978.0 527.8 L979.1 526.1 L980.3 524.5 L981.5 522.8 L982.7 521.2 L983.9 519.6 L985.1 518.0 L986.4 516.4 L987.6 514.8 L988.9 513.2 L990.2 511.7 L991.5 510.1 L992.9 508.6 L994.2 507.2 L995.6 505.7 L997.0 504.3 L998.4 502.9 L999.8 501.6 L1001.3 500.3 L1002.8 499.0 L1004.3 497.8 L1005.9 496.6 L1007.4 495.5 L1009.0 494.4 L1010.7 493.3 L1012.3 492.4 L1014.0 491.4 L1015.7 490.6 L1017.5 489.8 L1019.3 489.1 L1021.1 488.4 L1022.9 487.8 L1024.8 487.2 L1026.6 486.8 L1028.5 486.3 L1030.4 486.0 L1032.3 485.7 L1034.2 485.5 L1036.1 485.4 L1038.1 485.3 L1040.0 485.3 L1041.9 485.4 L1043.8 485.5 L1045.6 485.7 L1047.5 486.0 L1049.3 486.4 L1051.1 486.8 L1052.9 487.3 L1054.7 487.9 L1056.4 488.5 L1058.1 489.3 L1059.7 490.1 L1061.3 491.0 L1062.9 491.9 L1064.5 493.0 L1066.0 494.1 L1067.4 495.2 L1068.9 496.4 L1070.3 497.7 L1071.7 499.0 L1073.0 500.4 L1074.4 501.8 L1075.7 503.2 L1076.9 504.7 L1078.2 506.3 L1079.4 507.8 L1080.6 509.4 L1081.8 511.1 L1082.9 512.7 L1084.1 514.4 L1085.2 516.1 L1086.3 517.8 L1087.4 519.5 L1088.5 521.2 L1089.6 523.0 L1090.6 524.7 L1091.7 526.4 L1092.7 528.2 L1093.7 529.9 L1094.8 531.7 L1095.8 533.4 L1096.8 535.2 L1097.8 536.9 L1098.7 538.7 L1099.7 540.4 L1100.7 542.1 L1101.6 543.9 L1102.6 545.6 L1103.5 547.4 L1104.4 549.1 L1105.4 550.9 L1106.3 552.6 L1107.2 554.4 L1108.1 556.1 L1109.0 557.9 L1109.9 559.6 L1110.8 561.4 L1111.7 563.1 L1112.6 564.9 L1113.5 566.6 L1114.3 568.4 L1115.2 570.1 L1116.1 571.9 L1117.0 573.6 L1117.8 575.4 L1118.7 577.1 L1119.6 578.8 L1120.4 580.6 L1121.3 582.3 L1122.1 584.1 L1123.0 585.8 L1123.9 587.6 L1124.7 589.3 L1125.6 591.0 L1126.5 592.8 L1127.3 594.5 L1128.2 596.2 L1129.1 598.0 L1129.9 599.7 L1130.8 601.4 L1131.7 603.2 L1132.6 604.9 L1133.5 606.6 L1134.3 608.3 L1135.2 610.1 L1136.1 611.8 L1137.0 613.5 L1137.9 615.2 L1138.8 616.9 L1139.7 618.7 L1140.6 620.4 L1141.5 622.1 L1142.4 623.8 L1143.3 625.5 L1144.2 627.2 L1145.1 629.0 L1146.0 630.7 L1146.9 632.4 L1147.8 634.1 L1148.7 635.8 L1149.6 637.5 L1150.6 639.2 L1151.5 640.9 L1152.4 642.6 L1153.3 644.3 L1154.3 646.0 L1155.2 647.7 L1156.1 649.5 L1157.1 651.2 L1158.0 652.9 L1159.0 654.6 L1159.9 656.3 L1160.8 658.0 L1161.8 659.7 L1162.7 661.4 L1163.7 663.1 L1164.7 664.8 L1165.6 666.5 L1166.6 668.2 L1167.5 669.9 L1168.5 671.6 L1169.5 673.3 L1170.4 675.0 L1171.4 676.7 L1172.4 678.4 L1173.4 680.1 L1174.4 681.8 L1175.3 683.5 L1176.3 685.2 L1177.3 686.9 L1178.3 688.6 L1179.3 690.3 L1180.3 692.0 L1181.3 693.7 L1182.3 695.5 L1183.3 697.2 L1184.3 698.9 L1185.3 700.6 L1186.4 702.3 L1187.4 704.0 L1188.4 705.7 L1189.4 707.4 L1190.4 709.1 L1191.5 710.8 L1192.5 712.5 L1193.5 714.3 L1194.6 716.0 L1195.6 717.7 L1196.7 719.4 L1197.7 721.1 L1198.8 722.8 L1199.8 724.5 L1200.9 726.2 L1202.0 727.9 L1203.1 729.6 L1204.1 731.3 L1205.2 732.9 L1206.3 734.6 L1207.5 736.3 L1208.6 737.9 L1209.7 739.5 L1210.9 741.1 L1212.1 742.7 L1213.2 744.3 L1214.4 745.9 L1215.6 747.4 L1216.9 749.0 L1218.1 750.5 L1219.3 752.0 L1220.6 753.4 L1221.9 754.9 L1223.2 756.3 L1224.5 757.7 L1225.9 759.1 L1227.3 760.4 L1228.6 761.8 L1230.0 763.1 L1231.5 764.3 L1232.9 765.6 L1234.4 766.8 L1235.9 767.9 L1237.4 769.1 L1239.0 770.2 L1240.6 771.2 L1242.2 772.3 L1243.8 773.3 L1245.4 774.2 L1247.1 775.1 L1248.8 776.0 L1250.5 776.9 L1252.3 777.7 L1254.0 778.5 L1255.8 779.2 L1257.6 780.0 L1259.4 780.6 L1261.2 781.3 L1263.1 781.9 L1265.0 782.5 L1266.8 783.0 L1268.7 783.6 L1270.6 784.0 L1272.5 784.5 L1274.5 784.9 L1276.4 785.3 L1278.3 785.6 L1280.3 786.0 L1282.2 786.2 L1284.2 786.5 L1286.1 786.7 L1288.1 786.9 L1290.1 787.1 L1292.1 787.3 L1294.0 787.4 L1296.0 787.5 L1298.0 787.7 L1300.0 787.8 L1302.0 787.8 L1304.0 787.9 L1306.0 788.0 L1307.9 788.1 L1309.9 788.1 L1311.9 788.2 L1313.9 788.3 L1315.8 788.3 L1317.8 788.4 L1319.8 788.5 L1321.7 788.6 L1323.7 788.7 L1325.6 788.8 L1327.6 789.0 L1329.5 789.1 L1331.4 789.3 L1333.3 789.5 L1335.2 789.7 L1337.1 790.0 L1339.0 790.3 L1340.9 790.6 L1342.7 791.0 L1344.6 791.4 L1346.4 791.8 L1348.2 792.3 L1350.0 792.8 L1351.8 793.3 L1353.6 793.9 L1355.3 794.6 L1357.1 795.3 L1358.8 796.0 L1360.5 796.9 L1362.2 797.7 L1363.8 798.6 L1365.5 799.6 L1367.1 800.6 L1368.7 801.7 L1370.3 802.8 L1371.8 804.0 L1373.4 805.1 L1374.9 806.4 L1376.4 807.6 L1377.9 808.9 L1379.3 810.3 L1380.7 811.6 L1382.1 813.0 L1383.5 814.4 L1384.9 815.9 L1386.2 817.3 L1387.5 818.8 L1388.7 820.3 L1390.0 821.8 L1391.2 823.3 L1392.4 824.9 L1393.6 826.4 L1394.7 828.0 L1395.8 829.6 L1396.9 831.2 L1398.0 832.8 L1399.1 834.4 L1400.2 836.1 L1401.2 837.7 L1402.2 839.4 L1403.2 841.1 L1404.2 842.8 L1405.2 844.5 L1406.1 846.2 L1407.1 847.9 L1408.0 849.6 L1408.9 851.3 L1409.8 853.0 L1410.8 854.8 L1411.7 856.5 L1412.5 858.2 L1413.4 860.0 L1414.3 861.7 L1415.2 863.5 L1416.1 865.2 L1416.9 867.0 L1417.8 868.7 L1418.6 870.5 L1419.5 872.3 L1420.3 874.0 L1421.2 875.8 L1422.0 877.6 L1422.8 879.3 L1423.7 881.1 L1424.5 882.9 L1425.3 884.6 L1426.1 886.4 L1426.9 888.2 L1427.7 890.0 L1428.5 891.8 L1429.3 893.6 L1430.1 895.4 L1430.9 897.1 L1431.7 898.9 L1432.5 900.7 L1433.3 902.5 L1434.1 904.3 L1434.8 906.1 L1435.6 907.9 L1436.4 909.7 L1437.1 911.5 L1437.9 913.3 L1438.7 915.1 L1439.4 916.9 L1440.2 918.7 L1440.9 920.6 L1441.7 922.4 L1442.4 924.2 L1443.2 926.0 L1443.9 927.8 L1444.7 929.6 L1445.4 931.4 L1446.2 933.2 L1446.9 935.1 L1447.7 936.9 L1448.4 938.7 L1449.1 940.5 L1449.9 942.3 L1450.6 944.2 L1451.4 946.0 L1452.1 947.8 L1452.8 949.6 L1453.6 951.4 L1454.3 953.3 L1455.0 955.1 L1455.8 956.9 L1456.5 958.7 L1457.2 960.5 L1458.0 962.4 L1458.7 964.2 L1459.4 966.0 L1460.2 967.8 L1460.9 969.7 L1461.6 971.5 L1462.4 973.3 L1463.1 975.1 L1463.9 976.9 L1464.6 978.8 L1465.3 980.6 L1466.1 982.4 L1466.8 984.2 L1467.6 986.0 L1468.3 987.9 L1469.1 989.7 L1469.8 991.5 L1470.6 993.3 L1471.3 995.1 L1472.1 996.9 L1472.8 998.8 L1473.6 1000.6 L1474.4 1002.4 L1475.1 1004.2 L1475.9 1006.0 L1476.7 1007.8 L1477.4 1009.6 L1478.2 1011.4 L1479.0 1013.2 L1479.8 1015.0 L1480.5 1016.8 L1481.3 1018.6 L1482.1 1020.4 L1482.9 1022.3 L1483.7 1024.1 L1484.5 1025.9 L1485.3 1027.6 L1486.1 1029.4 L1486.9 1031.2 L1487.7 1033.0 L1488.5 1034.8 L1489.3 1036.6 L1490.1 1038.4 L1490.9 1040.2 L1491.7 1042.0 L1492.5 1043.8 L1493.3 1045.6 L1494.1 1047.4 L1495.0 1049.2 L1495.8 1050.9 L1496.6 1052.7 L1497.4 1054.5 L1498.2 1056.3 L1499.1 1058.1 L1499.9 1059.9 L1500.7 1061.6 L1501.6 1063.4 L1502.4 1065.2 L1503.2 1067.0 L1504.1 1068.8 L1504.9 1070.5 L1505.8 1072.3 L1506.6 1074.1 L1507.4 1075.9 L1508.3 1077.6 L1509.1 1079.4 L1510.0 1081.2 L1510.8 1082.9 L1511.7 1084.7 L1512.6 1086.5 L1513.4 1088.2 L1514.3 1090.0 L1515.1 1091.8 L1516.0 1093.5 L1516.8 1095.3 L1517.7 1097.1 L1518.6 1098.8 L1519.4 1100.6 L1520.3 1102.3 L1521.2 1104.1 L1522.1 1105.9 L1522.9 1107.6 L1523.8 1109.4 L1524.7 1111.1 L1525.6 1112.9 L1526.4 1114.6 L1527.3 1116.4 L1528.2 1118.1 L1529.1 1119.9 L1530.0 1121.6 L1530.9 1123.4 L1531.7 1125.1 L1532.6 1126.9 L1533.5 1128.6 L1534.4 1130.4 L1535.3 1132.1 L1536.2 1133.9 L1537.1 1135.6 L1538.0 1137.3 L1538.9 1139.1 L1539.8 1140.8 L1540.7 1142.6 L1541.6 1144.3 L1542.5 1146.0 L1543.4 1147.8 L1544.3 1149.5 L1545.2 1151.2 L1546.1 1153.0 L1547.0 1154.7 L1547.9 1156.4 L1548.8 1158.1 L1549.8 1159.9 L1550.7 1161.6 L1551.6 1163.3 L1552.6 1165.0 L1553.5 1166.7 L1554.5 1168.4 L1555.5 1170.1 L1556.5 1171.8 L1557.4 1173.5 L1558.4 1175.1 L1559.5 1176.8 L1560.5 1178.5 L1561.5 1180.1 L1562.6 1181.8 L1563.7 1183.4 L1564.7 1185.0 L1565.8 1186.6 L1567.0 1188.2 L1568.1 1189.8 L1569.2 1191.4 L1570.4 1193.0 L1571.6 1194.6 L1572.8 1196.1 L1574.0 1197.7 L1575.3 1199.2 L1576.6 1200.7 L1577.8 1202.2 L1579.2 1203.7 L1580.5 1205.2 L1581.9 1206.7 L1583.3 1208.1 L1584.7 1209.5 L1586.1 1210.9 L1587.5 1212.3 L1589.0 1213.7 L1590.5 1215.0 L1592.0 1216.4 L1593.6 1217.6 L1595.1 1218.9 L1596.7 1220.1 L1598.3 1221.3 L1599.9 1222.5 L1601.5 1223.6 L1603.2 1224.7 L1604.9 1225.7 L1606.5 1226.7 L1608.2 1227.6 L1609.9 1228.5 L1611.7 1229.4 L1613.4 1230.2 L1615.2 1230.9 L1616.9 1231.6 L1618.7 1232.3 L1620.5 1232.9 L1622.3 1233.4 L1624.1 1233.9 L1625.9 1234.3 L1627.8 1234.6 L1629.6 1234.9 L1631.5 1235.1 L1633.3 1235.2 L1635.2 1235.3 L1637.1 1235.3 L1638.9 1235.2 L1640.8 1235.1 L1642.7 1234.9 L1644.6 1234.6 L1646.5 1234.3 L1648.5 1234.0 L1650.4 1233.6 L1652.3 1233.2 L1654.2 1232.7 L1656.2 1232.2 L1658.1 1231.7 L1660.1 1231.2 L1662.0 1230.6 L1664.0 1230.1 L1665.9 1229.5 L1667.9 1228.9 L1669.9 1228.3 L1671.8 1227.8 L1673.8 1227.2 L1675.8 1226.7 L1677.7 1226.1 L1679.7 1225.6 L1681.7 1225.2 L1683.6 1224.7 L1685.6 1224.3 L1687.6 1223.9 L1689.6 1223.6 L1691.5 1223.3 L1693.5 1223.1 L1695.5 1222.9 L1697.4 1222.8 L1699.4 1222.7 L1701.4 1222.7 L1703.3 1222.7 L1705.3 1222.8 L1707.2 1223.0 L1709.1 1223.2 L1711.0 1223.5 L1713.0 1223.8 L1714.8 1224.2 L1716.7 1224.6 L1718.6 1225.1 L1720.4 1225.6 L1722.2 1226.2 L1724.0 1226.9 L1725.8 1227.6 L1727.6 1228.3 L1729.3 1229.2 L1731.0 1230.0 L1732.7 1230.9 L1734.3 1231.9 L1736.0 1232.9 L1737.6 1234.0 L1739.2 1235.1 L1740.7 1236.2 L1742.3 1237.4 L1743.8 1238.7 L1745.3 1239.9 L1746.7 1241.2 L1748.2 1242.6 L1749.6 1244.0 L1751.0 1245.4 L1752.4 1246.8 L1753.7 1248.3 L1755.0 1249.8 L1756.3 1251.3 L1757.6 1252.9 L1758.9 1254.4 L1760.1 1256.0 L1761.3 1257.7 L1762.5 1259.3 L1763.7 1261.0 L1764.9 1262.6 L1766.0 1264.3 L1767.2 1265.9 L1768.4 1267.6 L1769.5 1269.2 L1770.8 1270.8 L1772.0 1272.3 L1773.4 1273.8 L1774.7 1275.2 L1776.2 1276.5 L1777.7 1277.8 L1779.4 1279.0 L1781.1 1280.0 L1782.9 1281.0 L1784.9 1281.8 L1787.0 1282.5 L1789.1 1283.0 L1791.1 1283.3 L1793.0 1283.2 L1794.7 1282.8 L1796.1 1282.1 L1797.3 1281.2 L1798.4 1279.9 L1799.4 1278.5 L1800.2 1277.0 L1800.9 1275.3 L1801.6 1273.4 L1802.2 1271.6 L1802.8 1269.7 L1803.4 1267.8 L1803.9 1265.8 L1804.5 1263.9 L1805.1 1262.0 L1805.6 1260.1 L1806.1 1258.2 L1806.7 1256.3 L1807.2 1254.4 L1807.7 1252.5 L1808.2 1250.5 L1808.8 1248.6 L1809.3 1246.7 L1809.8 1244.8 L1810.2 1242.9 L1810.7 1240.9 L1811.2 1239.0 L1811.7 1237.1 L1812.1 1235.2 L1812.6 1233.3 L1813.0 1231.3 L1813.5 1229.4 L1813.9 1227.5 L1814.4 1225.6 L1814.8 1223.6 L1815.2 1221.7 L1815.6 1219.8 L1816.1 1217.9 L1816.5 1215.9 L1816.9 1214.0 L1817.3 1212.1 L1817.7 1210.1 L1818.0 1208.2 L1818.4 1206.3 L1818.8 1204.3 L1819.2 1202.4 L1819.5 1200.5 L1819.9 1198.5 L1820.2 1196.6 L1820.6 1194.7 L1820.9 1192.7 L1821.3 1190.8 L1821.6 1188.9 L1821.9 1186.9 L1822.3 1185.0 L1822.6 1183.0 L1822.9 1181.1 L1823.2 1179.2 L1823.5 1177.2 L1823.8 1175.3 L1824.1 1173.3 L1824.4 1171.4 L1824.7 1169.5 L1825.0 1167.5 L1825.3 1165.6 L1825.6 1163.6 L1825.8 1161.7 L1826.1 1159.7 L1826.4 1157.8 L1826.6 1155.9 L1826.9 1153.9 L1827.1 1152.0 L1827.4 1150.0 L1827.6 1148.1 L1827.9 1146.1 L1828.1 1144.2 L1828.4 1142.2 L1828.6 1140.3 L1828.8 1138.3 L1829.0 1136.4 L1829.3 1134.4 L1829.5 1132.5 L1829.7 1130.5 L1829.9 1128.6 L1830.1 1126.6 L1830.3 1124.7 L1830.5 1122.7 L1830.7 1120.8 L1830.9 1118.8 L1831.1 1116.9 L1831.3 1114.9 L1831.5 1113.0 L1831.7 1111.0 L1831.9 1109.1 L1832.1 1107.1 L1832.2 1105.2 L1832.4 1103.2 L1832.6 1101.2 L1832.8 1099.3 L1832.9 1097.3 L1833.1 1095.4 L1833.3 1093.4 L1833.4 1091.5 L1833.6 1089.5 L1833.7 1087.6 L1833.9 1085.6 L1834.0 1083.6 L1834.2 1081.7 L1834.3 1079.7 L1834.5 1077.8 L1834.6 1075.8 L1834.8 1073.8 L1834.9 1071.9 L1835.1 1069.9 L1835.2 1068.0 L1835.4 1066.0 L1835.5 1064.1 L1835.6 1062.1 L1835.8 1060.1 L1835.9 1058.2 L1836.0 1056.2 L1836.2 1054.3 L1836.3 1052.3 L1836.4 1050.3 L1836.6 1048.4 L1836.7 1046.4 L1836.8 1044.5 L1836.9 1042.5 L1837.1 1040.5 L1837.2 1038.6 L1837.3 1036.6 L1837.4 1034.7 L1837.6 1032.7 L1837.7 1030.7 L1837.8 1028.8 L1837.9 1026.8 L1838.0 1024.9 L1838.2 1022.9 L1838.3 1020.9 L1838.4 1019.0 L1838.5 1017.0 L1838.6 1015.1 L1838.8 1013.1 L1838.9 1011.1 L1839.0 1009.2 L1839.1 1007.2 L1839.2 1005.3 L1839.4 1003.3 L1839.5 1001.3 L1839.6 999.4 L1839.7 997.4 L1839.8 995.5 L1840.0 993.5 L1840.1 991.5 L1840.2 989.6 L1840.3 987.6 L1840.5 985.7 L1840.6 983.7 L1840.7 981.7 L1840.8 979.8 L1841.0 977.8 L1841.1 975.9 L1841.2 973.9 L1841.3 971.9 L1841.5 970.0 L1841.6 968.0 L1841.7 966.1 L1841.9 964.1 L1842.0 962.2 L1842.2 960.2 L1842.3 958.2 L1842.4 956.3 L1842.6 954.3 L1842.7 952.4 L1842.9 950.4 L1843.0 948.5 L1843.2 946.5 L1843.3 944.5 L1843.5 942.6 L1843.6 940.6 L1843.8 938.7 L1843.9 936.7 L1844.1 934.8 L1844.3 932.8 L1844.4 930.9 L1844.6 928.9 L1844.8 927.0 L1844.9 925.0' stroke='#0000ff' stroke-width='7.2' fill='none' stroke-linejoin='round' stroke-linecap='butt'/>
<path d='M297.5 1128.5 L299.6 1124.4 L301.5 1121.5 L303.2 1119.6 L304.8 1118.6 L306.2 1118.3 L307.5 1118.7 L308.7 1119.6 L309.8 1121.0 L310.9 1122.6 L311.8 1124.5 L312.8 1126.4 L313.7 1128.4 L314.6 1130.4 L315.5 1132.4 L316.3 1134.4 L317.1 1136.5 L317.9 1138.5 L318.7 1140.6 L319.4 1142.7 L320.2 1144.8 L320.9 1146.9 L321.6 1149.0 L322.2 1151.2 L322.9 1153.4 L323.6 1155.6 L324.2 1157.8 L324.8 1160.0 L325.4 1162.2 L326.0 1164.5 L326.6 1166.8 L327.2 1169.1 L327.8 1171.4 L328.3 1173.8 L328.9 1176.1 L329.5 1178.5 L330.0 1180.9 L330.6 1183.4 L331.1 1185.8 L331.7 1188.2 L332.3 1190.6 L333.0 1193.0 L333.6 1195.4 L334.3 1197.7 L335.1 1200.0 L335.9 1202.3 L336.7 1204.5 L337.7 1206.6 L338.7 1208.7 L339.7 1210.7 L340.9 1212.6 L342.1 1214.4 L343.5 1216.1 L344.9 1217.7 L346.4 1219.2 L348.1 1220.5 L349.8 1221.8 L351.6 1222.8 L353.5 1223.7 L355.4 1224.4 L357.3 1224.9 L359.2 1225.1 L361.1 1225.1 L362.9 1224.8 L364.7 1224.2 L366.4 1223.3 L368.0 1222.1 L369.5 1220.7 L371.0 1219.1 L372.3 1217.3 L373.6 1215.4 L374.8 1213.5 L375.8 1211.5 L376.8 1209.5 L377.7 1207.6 L378.5 1205.8 L379.2 1204.1 L379.9 1202.4 L380.6 1200.7 L381.4 1199.0 L382.1 1197.2 L382.9 1195.4 L383.7 1193.6 L384.5 1191.7 L385.3 1189.8 L386.2 1187.9 L387.0 1186.0 L387.9 1184.0 L388.8 1182.0 L389.7 1180.0 L390.5 1178.0 L391.4 1175.9 L392.3 1173.9 L393.2 1171.8 L394.1 1169.7 L395.0 1167.6 L395.8 1165.5 L396.7 1163.4 L397.5 1161.2 L398.4 1159.1 L399.2 1157.0 L400.0 1154.8 L400.8 1152.7 L401.6 1150.5 L402.4 1148.4 L403.2 1146.2 L404.0 1144.1 L404.8 1141.9 L405.7 1139.8 L406.5 1137.6 L407.4 1135.5 L408.4 1133.4 L409.3 1131.3 L410.4 1129.2 L411.4 1127.2 L412.6 1125.1 L413.8 1123.1 L415.0 1121.0 L416.4 1119.0 L417.8 1117.1 L419.3 1115.1 L420.9 1113.2 L422.6 1111.3 L424.3 1109.5 L426.1 1107.8 L428.0 1106.3 L429.9 1104.9 L431.8 1103.7 L433.8 1102.8 L435.8 1102.1 L437.8 1101.6 L439.8 1101.3 L441.8 1101.3 L443.8 1101.4 L445.8 1101.8 L447.8 1102.3 L449.8 1103.0 L451.7 1103.8 L453.7 1104.8 L455.6 1106.0 L457.5 1107.2 L459.4 1108.6 L461.3 1110.1 L463.1 1111.6 L464.9 1113.3 L466.6 1115.0 L468.3 1116.8 L470.0 1118.6 L471.6 1120.5 L473.1 1122.3 L474.6 1124.2 L476.1 1126.2 L477.5 1128.1 L478.9 1130.0 L480.3 1132.0 L481.6 1133.9 L482.9 1135.8 L484.2 1137.8 L485.5 1139.7 L486.8 1141.6 L488.1 1143.5 L489.4 1145.3 L490.8 1147.2 L492.2 1149.0 L493.6 1150.8 L495.0 1152.5 L496.5 1154.2 L498.0 1155.8 L499.6 1157.5 L501.3 1159.0 L503.0 1160.5 L504.8 1161.9 L506.7 1163.3 L508.6 1164.6 L510.6 1165.8 L512.6 1166.9 L514.7 1168.0 L516.8 1168.9 L518.9 1169.7 L521.1 1170.3 L523.2 1170.9 L525.3 1171.2 L527.4 1171.5 L529.5 1171.5 L531.6 1171.4 L533.6 1171.1 L535.5 1170.6 L537.4 1169.9 L539.2 1169.0 L540.9 1167.9 L542.6 1166.6 L544.2 1165.1 L545.7 1163.5 L547.2 1161.7 L548.6 1159.9 L550.0 1157.9 L551.3 1155.8 L552.6 1153.6 L553.8 1151.5 L555.0 1149.2 L556.2 1147.0 L557.4 1144.8 L558.5 1142.6 L559.6 1140.4 L560.7 1138.3 L561.8 1136.3 L562.9 1134.3 L563.9 1132.3 L564.9 1130.4 L566.0 1128.5 L567.0 1126.6 L567.9 1124.8 L568.9 1122.9 L569.8 1121.0 L570.8 1119.1 L571.6 1117.2 L572.5 1115.2 L573.3 1113.2 L574.1 1111.1 L574.9 1108.9 L575.6 1106.7 L576.3 1104.4 L577.0 1102.0 L577.6 1099.4 L578.1 1096.8 L578.5 1093.9 L578.9 1090.9 L579.2 1087.8 L579.5 1084.5 L579.7 1081.2 L579.8 1078.0 L579.9 1074.8 L580.0 1071.8 L580.1 1069.0 L580.2 1066.5 L580.2 1064.4 L580.3 1062.6 L580.4 1061.3 L580.6 1060.6 L580.8 1060.5 L581.0 1061.1 L581.4 1062.3 L581.7 1064.1 L582.2 1066.3 L582.6 1068.7 L583.1 1071.2 L583.5 1073.6 L584.0 1075.8 L584.4 1077.6 L584.9 1078.7 L585.2 1079.3 L585.6 1079.4 L585.9 1078.9 L586.2 1078.0 L586.5 1076.6 L586.8 1074.9 L587.1 1072.8 L587.4 1070.4 L587.7 1067.7 L588.0 1064.8 L588.3 1061.7 L588.6 1058.4 L589.0 1055.0 L589.4 1051.6 L589.8 1048.1 L590.2 1044.6 L590.7 1041.2 L591.3 1037.8 L591.9 1034.6 L592.5 1031.5 L593.2 1028.6 L594.0 1025.8 L594.8 1023.3 L595.6 1020.9 L596.5 1018.6 L597.4 1016.4 L598.4 1014.3 L599.3 1012.3 L600.3 1010.4 L601.3 1008.5 L602.2 1006.6 L603.2 1004.8 L604.2 1003.0 L605.1 1001.1 L606.0 999.3 L606.9 997.3 L607.7 995.4 L608.6 993.3 L609.4 991.3 L610.1 989.2 L610.9 987.0 L611.6 984.9 L612.3 982.7 L613.0 980.4 L613.7 978.2 L614.4 976.0 L615.1 973.7 L615.8 971.4 L616.4 969.1 L617.1 966.9 L617.8 964.6 L618.4 962.3 L619.1 960.0 L619.8 957.8 L620.5 955.5 L621.2 953.3 L621.9 951.0 L622.6 948.8 L623.3 946.6 L624.0 944.4 L624.7 942.1 L625.4 939.9 L626.1 937.7 L626.8 935.5 L627.5 933.3 L628.3 931.1 L629.0 928.9 L629.7 926.7 L630.4 924.5 L631.2 922.3 L631.9 920.1 L632.7 917.9 L633.4 915.8 L634.2 913.6 L634.9 911.4 L635.7 909.3 L636.4 907.1 L637.2 904.9 L637.9 902.8 L638.7 900.6 L639.5 898.5 L640.2 896.3 L641.0 894.2 L641.8 892.0 L642.6 889.9 L643.3 887.7 L644.1 885.6 L644.9 883.4 L645.7 881.3 L646.5 879.1 L647.3 877.0 L648.0 874.9 L648.8 872.7 L649.6 870.6 L650.4 868.4 L651.2 866.3 L652.0 864.2 L652.8 862.0 L653.6 859.9 L654.4 857.8 L655.2 855.6 L656.1 853.5 L656.9 851.3 L657.7 849.2 L658.5 847.1 L659.3 844.9 L660.1 842.8 L660.9 840.6 L661.7 838.5 L662.6 836.3 L663.4 834.2 L664.2 832.0 L665.0 829.9 L665.8 827.7 L666.7 825.6 L667.5 823.4 L668.3 821.3 L669.1 819.1 L670.0 816.9 L670.8 814.8 L671.6 812.6 L672.4 810.4 L673.3 808.2 L674.1 806.1 L674.9 803.9 L675.7 801.7 L676.6 799.5 L677.4 797.3 L678.2 795.1 L679.0 792.9 L679.9 790.7 L680.7 788.5 L681.5 786.3 L682.4 784.1 L683.2 781.8 L684.0 779.6 L684.8 777.4 L685.7 775.2 L686.5 772.9 L687.3 770.7 L688.2 768.5 L689.0 766.2 L689.9 764.0 L690.8 761.8 L691.7 759.7 L692.6 757.5 L693.6 755.4 L694.6 753.3 L695.6 751.2 L696.6 749.1 L697.7 747.1 L698.8 745.1 L699.9 743.2 L701.1 741.3 L702.3 739.4 L703.6 737.6 L704.9 735.9 L706.3 734.2 L707.7 732.5 L709.2 730.9 L710.7 729.4 L712.3 727.9 L714.0 726.6 L715.7 725.2 L717.5 724.0 L719.4 722.8 L721.3 721.7 L723.3 720.7 L725.3 719.7 L727.5 718.8 L729.6 718.0 L731.8 717.2 L734.1 716.6 L736.3 715.9 L738.6 715.4 L741.0 714.9 L743.3 714.4 L745.7 714.0 L748.1 713.7 L750.5 713.4 L752.9 713.2 L755.2 713.0 L757.6 712.8 L760.0 712.7 L762.3 712.6 L764.7 712.6 L767.0 712.6 L769.3 712.6 L771.6 712.5 L773.9 712.5 L776.1 712.5 L778.4 712.5 L780.6 712.4 L782.9 712.3 L785.1 712.1 L787.3 711.9 L789.5 711.6 L791.7 711.3 L793.8 710.9 L796.0 710.4 L798.1 709.8 L800.3 709.1 L802.4 708.3 L804.5 707.4 L806.6 706.4 L808.7 705.4 L810.7 704.2 L812.8 703.0 L814.8 701.7 L816.8 700.4 L818.8 699.0 L820.7 697.6 L822.6 696.2 L824.5 694.7 L826.4 693.2 L828.2 691.7 L830.0 690.2 L831.8 688.6 L833.5 687.1 L835.2 685.5 L836.9 683.9 L838.6 682.3 L840.2 680.6 L841.8 679.0 L843.4 677.3 L844.9 675.6 L846.4 673.9 L847.9 672.2 L849.4 670.4 L850.9 668.7 L852.3 666.9 L853.7 665.1 L855.1 663.3 L856.4 661.4 L857.7 659.6 L859.1 657.8 L860.3 655.9 L861.6 654.0 L862.8 652.1 L864.1 650.2 L865.3 648.3 L866.5 646.3 L867.6 644.4 L868.8 642.4 L869.9 640.4 L871.0 638.4 L872.1 636.4 L873.2 634.4 L874.2 632.4 L875.3 630.4 L876.3 628.3 L877.3 626.3 L878.3 624.2 L879.3 622.1 L880.2 620.0 L881.2 617.9 L882.1 615.8 L883.0 613.7 L883.9 611.5 L884.8 609.4 L885.7 607.3 L886.6 605.1 L887.4 602.9 L888.3 600.8 L889.1 598.6 L890.0 596.4 L890.8 594.2 L891.6 592.0 L892.4 589.8 L893.2 587.6 L894.0 585.4 L894.7 583.1 L895.5 580.9 L896.3 578.7 L897.0 576.4 L897.8 574.2 L898.5 571.9 L899.2 569.7 L900.0 567.4 L900.7 565.2 L901.4 562.9 L902.1 560.7 L902.8 558.5 L903.5 556.2 L904.2 554.0 L904.9 551.8 L905.6 549.6 L906.3 547.4 L906.9 545.2 L907.6 543.0 L908.3 540.9 L908.9 538.7 L909.6 536.6 L910.3 534.4 L910.9 532.3 L911.6 530.2 L912.2 528.1 L912.9 526.1 L913.6 524.0 L914.2 522.0 L914.9 520.0 L915.5 518.0 L916.2 516.1 L916.8 514.2 L917.5 512.3 L918.1 510.4 L918.8 508.5 L919.4 506.7 L920.1 504.9 L920.7 503.1 L921.4 501.4 L922.0 499.6 L922.6 497.8 L923.3 495.9 L923.9 494.0 L924.5 492.1 L925.1 490.1 L925.7 488.1 L926.3 486.1 L926.9 484.0 L927.5 482.0 L928.1 479.9 L928.8 477.8 L929.4 475.7 L930.0 473.6 L930.7 471.5 L931.3 469.4 L932.0 467.3 L932.6 465.2 L933.3 463.1 L934.0 460.9 L934.7 458.8 L935.4 456.7 L936.2 454.5 L936.9 452.4 L937.6 450.2 L938.4 448.1 L939.2 445.9 L940.0 443.8 L940.8 441.6 L941.6 439.5 L942.4 437.3 L943.2 435.2 L944.1 433.0 L945.0 430.9 L945.8 428.7 L946.7 426.6 L947.7 424.5 L948.6 422.3 L949.5 420.2 L950.5 418.1 L951.5 415.9 L952.5 413.8 L953.5 411.7 L954.5 409.6 L955.6 407.5 L956.7 405.4 L957.7 403.3 L958.9 401.3 L960.0 399.2 L961.1 397.1 L962.3 395.1 L963.5 393.1 L964.7 391.1 L966.0 389.1 L967.3 387.1 L968.6 385.2 L969.9 383.2 L971.2 381.3 L972.6 379.5 L974.1 377.6 L975.5 375.8 L977.0 374.1 L978.5 372.3 L980.1 370.7 L981.7 369.0 L983.3 367.4 L985.0 365.8 L986.7 364.3 L988.4 362.8 L990.2 361.4 L992.0 360.0 L993.9 358.7 L995.8 357.4 L997.8 356.2 L999.8 355.1 L1001.8 354.0 L1003.9 353.0 L1006.0 352.1 L1008.1 351.4 L1010.3 350.8 L1012.4 350.3 L1014.6 350.1 L1016.7 350.0 L1018.8 350.2 L1020.9 350.6 L1023.0 351.3 L1025.0 352.2 L1027.0 353.4 L1028.9 354.8 L1030.8 356.4 L1032.6 358.0 L1034.4 359.8 L1036.2 361.6 L1037.8 363.4 L1039.4 365.2 L1041.0 367.0 L1042.5 368.9 L1044.0 370.8 L1045.4 372.7 L1046.7 374.6 L1048.1 376.5 L1049.4 378.4 L1050.6 380.4 L1051.8 382.3 L1053.0 384.3 L1054.2 386.3 L1055.4 388.3 L1056.5 390.3 L1057.6 392.3 L1058.7 394.3 L1059.7 396.4 L1060.8 398.4 L1061.8 400.4 L1062.9 402.5 L1063.9 404.5 L1064.9 406.6 L1065.9 408.7 L1066.9 410.7 L1067.8 412.8 L1068.8 414.9 L1069.7 417.0 L1070.7 419.1 L1071.6 421.2 L1072.5 423.3 L1073.4 425.4 L1074.3 427.5 L1075.1 429.6 L1076.0 431.7 L1076.9 433.9 L1077.7 436.0 L1078.5 438.1 L1079.3 440.3 L1080.2 442.4 L1081.0 444.6 L1081.7 446.7 L1082.5 448.9 L1083.3 451.1 L1084.1 453.2 L1084.8 455.4 L1085.6 457.6 L1086.3 459.8 L1087.0 461.9 L1087.8 464.1 L1088.5 466.3 L1089.2 468.5 L1089.9 470.7 L1090.6 472.9 L1091.3 475.1 L1092.0 477.3 L1092.6 479.5 L1093.3 481.7 L1094.0 483.9 L1094.6 486.2 L1095.3 488.4 L1095.9 490.6 L1096.6 492.8 L1097.2 495.0 L1097.8 497.3 L1098.4 499.5 L1099.1 501.7 L1099.7 504.0 L1100.3 506.2 L1100.9 508.4 L1101.5 510.7 L1102.1 512.9 L1102.7 515.1 L1103.3 517.4 L1103.9 519.6 L1104.5 521.8 L1105.1 524.1 L1105.7 526.3 L1106.2 528.6 L1106.8 530.8 L1107.4 533.1 L1108.0 535.3 L1108.6 537.6 L1109.1 539.8 L1109.7 542.0 L1110.3 544.3 L1110.9 546.5 L1111.4 548.8 L1112.0 551.0 L1112.6 553.3 L1113.2 555.5 L1113.8 557.7 L1114.3 560.0 L1114.9 562.2 L1115.5 564.5 L1116.1 566.7 L1116.6 568.9 L1117.2 571.2 L1117.8 573.4 L1118.4 575.6 L1119.0 577.9 L1119.6 580.1 L1120.2 582.3 L1120.8 584.5 L1121.4 586.8 L1121.9 589.0 L1122.5 591.2 L1123.1 593.4 L1123.7 595.7 L1124.3 597.9 L1124.9 600.1 L1125.5 602.3 L1126.1 604.6 L1126.7 606.8 L1127.4 609.0 L1128.0 611.2 L1128.6 613.4 L1129.2 615.7 L1129.8 617.9 L1130.4 620.1 L1131.0 622.3 L1131.6 624.5 L1132.3 626.7 L1132.9 628.9 L1133.5 631.2 L1134.1 633.4 L1134.7 635.6 L1135.4 637.8 L1136.0 640.0 L1136.6 642.2 L1137.2 644.4 L1137.9 646.6 L1138.5 648.9 L1139.1 651.1 L1139.8 653.3 L1140.4 655.5 L1141.1 657.7 L1141.7 659.9 L1142.3 662.1 L1143.0 664.3 L1143.6 666.5 L1144.3 668.8 L1144.9 671.0 L1145.6 673.2 L1146.2 675.4 L1146.8 677.6 L1147.5 679.8 L1148.2 682.0 L1148.8 684.2 L1149.5 686.4 L1150.1 688.7 L1150.8 690.9 L1151.4 693.1 L1152.1 695.3 L1152.8 697.5 L1153.4 699.7 L1154.1 701.9 L1154.8 704.1 L1155.4 706.4 L1156.1 708.6 L1156.8 710.8 L1157.4 713.0 L1158.1 715.2 L1158.8 717.4 L1159.5 719.6 L1160.2 721.9 L1160.8 724.1 L1161.5 726.3 L1162.2 728.5 L1162.9 730.7 L1163.6 732.9 L1164.3 735.1 L1165.1 737.3 L1165.8 739.6 L1166.5 741.8 L1167.2 744.0 L1168.0 746.2 L1168.7 748.4 L1169.5 750.6 L1170.2 752.8 L1171.0 755.0 L1171.8 757.1 L1172.5 759.3 L1173.3 761.5 L1174.1 763.7 L1174.9 765.9 L1175.7 768.1 L1176.6 770.2 L1177.4 772.4 L1178.3 774.6 L1179.1 776.7 L1180.0 778.9 L1180.9 781.1 L1181.7 783.2 L1182.7 785.3 L1183.6 787.4 L1184.6 789.4 L1185.7 791.3 L1186.8 793.0 L1188.0 794.6 L1189.4 796.1 L1190.8 797.3 L1192.3 798.3 L1194.0 799.1 L1195.7 799.9 L1197.3 800.8 L1198.9 801.8 L1200.4 803.0 L1201.7 804.3 L1203.0 805.9 L1204.2 807.6 L1205.3 809.4 L1206.3 811.3 L1207.3 813.3 L1208.2 815.3 L1209.2 817.4 L1210.1 819.4 L1211.0 821.4 L1211.9 823.5 L1212.8 825.5 L1213.9 827.5 L1215.0 829.6 L1216.2 831.6 L1217.4 833.7 L1218.8 835.7 L1220.3 837.7 L1221.9 839.6 L1223.5 841.6 L1225.2 843.4 L1227.0 845.2 L1228.8 846.8 L1230.7 848.4 L1232.6 849.9 L1234.6 851.2 L1236.6 852.4 L1238.7 853.4 L1240.8 854.3 L1242.9 855.0 L1245.0 855.5 L1247.1 855.8 L1249.3 856.0 L1251.5 856.1 L1253.6 856.0 L1255.8 855.7 L1258.0 855.4 L1260.1 854.9 L1262.3 854.3 L1264.4 853.6 L1266.5 852.8 L1268.7 851.9 L1270.8 850.9 L1272.8 849.8 L1274.9 848.7 L1276.9 847.5 L1278.9 846.3 L1280.8 845.0 L1282.7 843.6 L1284.6 842.2 L1286.5 840.8 L1288.3 839.4 L1290.1 837.9 L1291.8 836.4 L1293.6 834.9 L1295.3 833.4 L1297.0 831.8 L1298.7 830.3 L1300.4 828.7 L1302.1 827.2 L1303.8 825.6 L1305.5 824.0 L1307.2 822.5 L1308.9 821.0 L1310.6 819.5 L1312.4 818.0 L1314.1 816.5 L1315.9 815.1 L1317.6 813.6 L1319.5 812.3 L1321.3 810.9 L1323.2 809.6 L1325.1 808.4 L1327.0 807.2 L1329.0 806.0 L1331.0 804.9 L1333.1 803.9 L1335.2 802.9 L1337.3 802.0 L1339.5 801.2 L1341.7 800.4 L1343.9 799.7 L1346.1 799.1 L1348.4 798.6 L1350.7 798.2 L1352.9 797.8 L1355.2 797.5 L1357.5 797.4 L1359.9 797.3 L1362.2 797.3 L1364.5 797.5 L1366.8 797.7 L1369.1 798.0 L1371.4 798.4 L1373.7 799.0 L1375.9 799.6 L1378.2 800.3 L1380.4 801.0 L1382.5 801.9 L1384.7 802.8 L1386.8 803.9 L1388.8 804.9 L1390.9 806.1 L1392.8 807.3 L1394.7 808.6 L1396.6 810.0 L1398.3 811.4 L1400.1 812.8 L1401.7 814.3 L1403.3 815.9 L1404.8 817.5 L1406.3 819.2 L1407.6 820.9 L1409.0 822.6 L1410.3 824.4 L1411.5 826.3 L1412.7 828.1 L1413.9 830.0 L1415.0 831.9 L1416.0 833.9 L1417.1 835.9 L1418.1 837.9 L1419.1 839.9 L1420.0 842.0 L1420.9 844.1 L1421.8 846.2 L1422.7 848.3 L1423.5 850.4 L1424.4 852.5 L1425.2 854.7 L1426.0 856.8 L1426.8 859.0 L1427.6 861.2 L1428.4 863.3 L1429.2 865.5 L1430.0 867.7 L1430.8 869.8 L1431.6 872.0 L1432.4 874.2 L1433.2 876.3 L1434.0 878.5 L1434.8 880.7 L1435.6 882.9 L1436.3 885.1 L1437.1 887.2 L1437.9 889.4 L1438.7 891.6 L1439.4 893.8 L1440.2 896.0 L1441.0 898.2 L1441.7 900.4 L1442.5 902.6 L1443.2 904.7 L1444.0 906.9 L1444.8 909.1 L1445.5 911.3 L1446.3 913.5 L1447.0 915.7 L1447.8 917.9 L1448.5 920.1 L1449.2 922.3 L1450.0 924.5 L1450.7 926.7 L1451.5 928.9 L1452.2 931.1 L1453.0 933.3 L1453.7 935.5 L1454.4 937.7 L1455.2 939.9 L1455.9 942.1 L1456.6 944.4 L1457.4 946.6 L1458.1 948.8 L1458.8 951.0 L1459.6 953.2 L1460.3 955.4 L1461.0 957.6 L1461.8 959.8 L1462.5 962.0 L1463.2 964.2 L1464.0 966.4 L1464.7 968.6 L1465.4 970.8 L1466.2 973.0 L1466.9 975.2 L1467.6 977.4 L1468.4 979.6 L1469.1 981.8 L1469.8 984.0 L1470.6 986.2 L1471.3 988.4 L1472.0 990.5 L1472.8 992.7 L1473.5 994.9 L1474.2 997.1 L1475.0 999.3 L1475.7 1001.5 L1476.5 1003.7 L1477.2 1005.9 L1478.0 1008.0 L1478.7 1010.2 L1479.4 1012.4 L1480.2 1014.6 L1480.9 1016.7 L1481.7 1018.9 L1482.4 1021.1 L1483.2 1023.2 L1484.0 1025.4 L1484.7 1027.6 L1485.5 1029.7 L1486.2 1031.9 L1487.0 1034.1 L1487.8 1036.2 L1488.5 1038.4 L1489.3 1040.5 L1490.1 1042.7 L1490.8 1044.8 L1491.6 1047.0 L1492.4 1049.1 L1493.2 1051.2 L1493.9 1053.4 L1494.7 1055.5 L1495.5 1057.7 L1496.3 1059.8 L1497.1 1062.0 L1497.9 1064.1 L1498.6 1066.2 L1499.4 1068.4 L1500.2 1070.5 L1501.0 1072.6 L1501.8 1074.8 L1502.6 1076.9 L1503.4 1079.1 L1504.2 1081.2 L1505.0 1083.3 L1505.8 1085.5 L1506.6 1087.6 L1507.4 1089.7 L1508.2 1091.9 L1509.0 1094.0 L1509.8 1096.1 L1510.7 1098.3 L1511.5 1100.4 L1512.3 1102.5 L1513.1 1104.7 L1513.9 1106.8 L1514.7 1109.0 L1515.6 1111.1 L1516.4 1113.2 L1517.2 1115.4 L1518.0 1117.5 L1518.9 1119.7 L1519.7 1121.8 L1520.5 1124.0 L1521.3 1126.1 L1522.2 1128.3 L1523.0 1130.4 L1523.9 1132.6 L1524.7 1134.7 L1525.5 1136.9 L1526.4 1139.1 L1527.2 1141.2 L1528.0 1143.4 L1528.9 1145.6 L1529.7 1147.7 L1530.6 1149.9 L1531.4 1152.1 L1532.3 1154.2 L1533.1 1156.4 L1534.0 1158.6 L1534.8 1160.8 L1535.7 1163.0 L1536.5 1165.2 L1537.4 1167.4 L1538.2 1169.6 L1539.1 1171.8 L1540.0 1174.0 L1540.8 1176.2 L1541.7 1178.4 L1542.6 1180.6 L1543.4 1182.8 L1544.3 1185.0 L1545.2 1187.2 L1546.1 1189.4 L1547.0 1191.6 L1547.9 1193.8 L1548.8 1196.0 L1549.7 1198.1 L1550.7 1200.3 L1551.7 1202.4 L1552.6 1204.6 L1553.6 1206.7 L1554.6 1208.8 L1555.7 1210.9 L1556.7 1213.0 L1557.8 1215.1 L1558.9 1217.1 L1560.0 1219.1 L1561.1 1221.1 L1562.3 1223.1 L1563.5 1225.1 L1564.7 1227.0 L1565.9 1228.9 L1567.2 1230.8 L1568.5 1232.6 L1569.8 1234.4 L1571.2 1236.2 L1572.6 1237.9 L1574.1 1239.7 L1575.5 1241.3 L1577.0 1243.0 L1578.6 1244.6 L1580.2 1246.2 L1581.8 1247.7 L1583.5 1249.2 L1585.2 1250.6 L1586.9 1252.1 L1588.7 1253.4 L1590.6 1254.7 L1592.5 1256.0 L1594.4 1257.2 L1596.4 1258.4 L1598.4 1259.5 L1600.4 1260.5 L1602.5 1261.5 L1604.6 1262.4 L1606.7 1263.3 L1608.8 1264.0 L1611.0 1264.7 L1613.2 1265.4 L1615.3 1265.9 L1617.5 1266.4 L1619.7 1266.7 L1621.9 1267.0 L1624.1 1267.2 L1626.3 1267.3 L1628.5 1267.2 L1630.7 1267.1 L1632.9 1266.9 L1635.0 1266.6 L1637.2 1266.1 L1639.3 1265.6 L1641.4 1264.9 L1643.5 1264.1 L1645.5 1263.2 L1647.6 1262.1 L1649.5 1261.0 L1651.5 1259.7 L1653.5 1258.3 L1655.4 1256.9 L1657.3 1255.3 L1659.2 1253.8 L1661.1 1252.2 L1662.9 1250.5 L1664.8 1248.8 L1666.7 1247.2 L1668.6 1245.5 L1670.5 1243.9 L1672.4 1242.3 L1674.3 1240.7 L1676.3 1239.2 L1678.2 1237.8 L1680.2 1236.5 L1682.3 1235.2 L1684.3 1234.1 L1686.4 1233.1 L1688.5 1232.1 L1690.7 1231.3 L1692.8 1230.6 L1695.0 1229.9 L1697.2 1229.4 L1699.4 1229.0 L1701.7 1228.7 L1703.9 1228.4 L1706.2 1228.3 L1708.5 1228.3 L1710.7 1228.3 L1713.0 1228.5 L1715.3 1228.8 L1717.5 1229.1 L1719.8 1229.5 L1722.0 1230.1 L1724.2 1230.7 L1726.4 1231.4 L1728.5 1232.1 L1730.6 1233.0 L1732.7 1234.0 L1734.7 1235.0 L1736.6 1236.1 L1738.5 1237.3 L1740.3 1238.6 L1742.1 1239.9 L1743.8 1241.3 L1745.5 1242.8 L1747.1 1244.4 L1748.7 1246.0 L1750.2 1247.6 L1751.7 1249.4 L1753.2 1251.1 L1754.6 1252.9 L1756.1 1254.7 L1757.5 1256.6 L1758.9 1258.5 L1760.3 1260.4 L1761.7 1262.4 L1763.1 1264.3 L1764.6 1266.3 L1766.0 1268.2 L1767.5 1270.2 L1769.0 1272.2 L1770.6 1274.1 L1772.2 1276.0 L1773.8 1278.0 L1775.5 1279.9 L1777.2 1281.7 L1779.0 1283.5 L1780.8 1285.1 L1782.6 1286.5 L1784.5 1287.7 L1786.3 1288.6 L1788.2 1289.2 L1790.1 1289.4 L1792.0 1289.3 L1793.9 1288.7 L1795.8 1287.7 L1797.5 1286.5 L1799.2 1285.1 L1800.7 1283.6 L1802.0 1281.9 L1803.2 1280.2 L1804.3 1278.4 L1805.3 1276.5 L1806.2 1274.6 L1806.9 1272.6 L1807.6 1270.5 L1808.2 1268.4 L1808.8 1266.2 L1809.3 1263.9 L1809.7 1261.7 L1810.1 1259.4 L1810.4 1257.1 L1810.7 1254.8 L1811.0 1252.4 L1811.3 1250.1 L1811.6 1247.8 L1811.9 1245.4 L1812.2 1243.1 L1812.5 1240.8 L1812.8 1238.4 L1813.1 1236.1 L1813.4 1233.8 L1813.7 1231.4 L1814.0 1229.1 L1814.3 1226.8 L1814.5 1224.4 L1814.8 1222.1 L1815.1 1219.8 L1815.4 1217.5 L1815.7 1215.1 L1815.9 1212.8 L1816.2 1210.5 L1816.5 1208.2 L1816.8 1205.9 L1817.0 1203.5 L1817.3 1201.2 L1817.6 1198.9 L1817.8 1196.6 L1818.1 1194.3 L1818.4 1191.9 L1818.6 1189.6 L1818.9 1187.3 L1819.1 1185.0 L1819.4 1182.7 L1819.6 1180.4 L1819.9 1178.1 L1820.1 1175.7 L1820.4 1173.4 L1820.6 1171.1 L1820.9 1168.8 L1821.1 1166.5 L1821.4 1164.2 L1821.6 1161.9 L1821.9 1159.6 L1822.1 1157.3 L1822.4 1155.0 L1822.6 1152.6 L1822.8 1150.3 L1823.1 1148.0 L1823.3 1145.7 L1823.5 1143.4 L1823.8 1141.1 L1824.0 1138.8 L1824.2 1136.5 L1824.4 1134.2 L1824.7 1131.9 L1824.9 1129.6 L1825.1 1127.3 L1825.3 1125.0 L1825.5 1122.7 L1825.8 1120.4 L1826.0 1118.1 L1826.2 1115.8 L1826.4 1113.5 L1826.6 1111.2 L1826.8 1108.9 L1827.0 1106.6 L1827.2 1104.3 L1827.4 1102.0 L1827.6 1099.7 L1827.8 1097.4 L1828.0 1095.1 L1828.2 1092.8 L1828.4 1090.5 L1828.6 1088.2 L1828.8 1085.9 L1829.0 1083.6 L1829.2 1081.3 L1829.4 1079.0 L1829.6 1076.7 L1829.8 1074.5 L1830.0 1072.2 L1830.1 1069.9 L1830.3 1067.6 L1830.5 1065.3 L1830.7 1063.0 L1830.9 1060.7 L1831.0 1058.4 L1831.2 1056.1 L1831.4 1053.8 L1831.6 1051.5 L1831.7 1049.2 L1831.9 1046.9 L1832.1 1044.6 L1832.2 1042.3 L1832.4 1040.1 L1832.6 1037.8 L1832.7 1035.5 L1832.9 1033.2 L1833.0 1030.9 L1833.2 1028.6 L1833.3 1026.3 L1833.5 1024.0 L1833.6 1021.7 L1833.8 1019.4 L1834.0 1017.1 L1834.1 1014.8 L1834.2 1012.5 L1834.4 1010.2 L1834.5 1008.0 L1834.7 1005.7 L1834.8 1003.4 L1835.0 1001.1 L1835.1 998.8 L1835.2 996.5 L1835.4 994.2 L1835.5 991.9 L1835.6 989.6 L1835.8 987.3 L1835.9 985.0 L1836.0 982.7 L1836.1 980.4 L1836.3 978.1 L1836.4 975.8 L1836.5 973.6 L1836.6 971.3 L1836.8 969.0 L1836.9 966.7 L1837.0 964.4 L1837.1 962.1 L1837.2 959.8 L1837.3 957.5 L1837.4 955.2 L1837.5 952.9 L1837.6 950.6 L1837.8 948.3 L1837.9 946.0 L1838.0 943.7 L1838.1 941.4 L1838.2 939.1 L1838.3 936.8 L1838.4 934.5 L1838.5 932.2 L1838.5 929.9 L1838.6 927.6 L1838.7 925.3 L1838.8 923.0 L1838.9 920.7 L1839.0 918.4 L1839.1 916.1 L1839.2 913.8 L1839.2 911.5 L1839.3 909.2 L1839.4 906.9 L1839.5 904.6 L1839.6 902.3 L1839.6 900.0 L1839.7 897.6 L1839.8 895.3 L1839.9 893.0 L1839.9 890.7 L1840.0 888.4 L1840.1 886.1 L1840.1 883.8 L1840.2 881.5 L1840.2 879.2 L1840.3 876.9 L1840.4 874.6 L1840.4 872.2 L1840.5 869.9 L1840.5 867.6 L1840.6 865.3 L1840.6 863.0 L1840.7 860.7 L1840.7 858.3 L1840.8 856.0 L1840.8 853.7 L1840.9 851.4 L1840.9 849.1 L1841.0 846.8 L1841.0 844.4 L1841.0 842.1 L1841.1 839.8 L1841.1 837.5 L1841.1 835.1 L1841.2 832.8 L1841.2 830.5 L1841.2 828.2 L1841.3 825.8 L1841.3 823.5 L1841.3 821.2 L1841.3 818.9 L1841.4 816.5 L1841.4 814.2 L1841.4 811.9 L1841.4 809.5 L1841.4 807.2 L1841.5 804.9 L1841.5 802.5' stroke='#ffa500' stroke-width='7.2' fill='none' stroke-linejoin='round' stroke-linecap='butt'/>
<path d='M299.8 1099.4 L300.1 1097.1 L300.4 1094.9 L300.7 1092.7 L301.0 1090.5 L301.3 1088.4 L301.5 1086.3 L301.7 1084.3 L301.9 1082.2 L302.1 1080.2 L302.3 1078.2 L302.5 1076.2 L302.7 1074.2 L302.8 1072.3 L303.0 1070.3 L303.2 1068.2 L303.4 1066.2 L303.6 1064.1 L303.8 1062.1 L304.0 1059.9 L304.2 1057.8 L304.5 1055.6 L304.8 1053.3 L305.1 1051.0 L305.4 1048.6 L305.8 1046.2 L306.1 1043.7 L306.6 1041.1 L307.0 1038.5 L307.5 1036.0 L308.1 1033.5 L308.7 1031.2 L309.4 1029.1 L310.1 1027.2 L310.9 1025.6 L311.8 1024.4 L312.8 1023.6 L313.8 1023.1 L314.9 1023.0 L316.0 1023.3 L317.1 1023.9 L318.2 1024.7 L319.2 1025.8 L320.2 1027.2 L321.2 1028.8 L322.0 1030.6 L322.8 1032.6 L323.5 1034.7 L324.1 1036.9 L324.7 1039.2 L325.2 1041.6 L325.7 1044.0 L326.2 1046.4 L326.7 1048.8 L327.2 1051.1 L327.6 1053.4 L328.1 1055.7 L328.6 1057.9 L329.1 1060.1 L329.6 1062.3 L330.1 1064.4 L330.6 1066.5 L331.1 1068.6 L331.6 1070.7 L332.1 1072.7 L332.6 1074.7 L333.1 1076.7 L333.6 1078.7 L334.1 1080.7 L334.6 1082.7 L335.1 1084.7 L335.6 1086.6 L336.1 1088.6 L336.6 1090.5 L337.1 1092.5 L337.5 1094.5 L338.0 1096.5 L338.5 1098.4 L339.0 1100.4 L339.5 1102.5 L339.9 1104.5 L340.4 1106.5 L340.9 1108.6 L341.3 1110.7 L341.8 1112.8 L342.2 1115.0 L342.7 1117.1 L343.1 1119.4 L343.5 1121.6 L344.0 1123.8 L344.5 1126.1 L344.9 1128.4 L345.4 1130.7 L346.0 1132.9 L346.5 1135.2 L347.2 1137.4 L347.8 1139.5 L348.6 1141.7 L349.4 1143.8 L350.2 1145.8 L351.2 1147.7 L352.2 1149.6 L353.3 1151.4 L354.6 1153.1 L355.9 1154.7 L357.3 1156.3 L358.9 1157.6 L360.5 1158.9 L362.2 1160.0 L363.9 1160.9 L365.7 1161.7 L367.4 1162.2 L369.2 1162.6 L370.9 1162.7 L372.6 1162.6 L374.2 1162.2 L375.8 1161.5 L377.2 1160.6 L378.6 1159.4 L379.8 1157.9 L381.0 1156.2 L382.1 1154.4 L383.1 1152.4 L384.1 1150.3 L385.0 1148.2 L386.0 1146.0 L386.9 1143.8 L387.8 1141.7 L388.6 1139.6 L389.5 1137.4 L390.4 1135.3 L391.2 1133.3 L392.0 1131.2 L392.9 1129.1 L393.7 1127.1 L394.5 1125.1 L395.3 1123.1 L396.1 1121.1 L396.9 1119.1 L397.7 1117.1 L398.5 1115.1 L399.2 1113.1 L400.0 1111.2 L400.8 1109.2 L401.6 1107.3 L402.3 1105.3 L403.1 1103.4 L403.9 1101.5 L404.6 1099.6 L405.4 1097.6 L406.2 1095.7 L407.0 1093.8 L407.8 1091.9 L408.5 1090.0 L409.3 1088.1 L410.1 1086.2 L410.9 1084.2 L411.7 1082.3 L412.6 1080.4 L413.4 1078.5 L414.2 1076.5 L415.0 1074.6 L415.9 1072.7 L416.8 1070.7 L417.6 1068.8 L418.5 1066.8 L419.4 1064.8 L420.3 1062.8 L421.2 1060.9 L422.2 1058.9 L423.2 1056.9 L424.1 1054.9 L425.2 1052.9 L426.2 1051.0 L427.3 1049.0 L428.4 1047.1 L429.5 1045.2 L430.7 1043.4 L431.9 1041.5 L433.2 1039.7 L434.5 1037.9 L435.9 1036.2 L437.3 1034.5 L438.8 1032.9 L440.3 1031.3 L441.9 1029.8 L443.5 1028.4 L445.2 1027.0 L446.9 1025.7 L448.6 1024.6 L450.3 1023.5 L452.1 1022.6 L453.9 1021.8 L455.6 1021.2 L457.4 1020.7 L459.2 1020.4 L461.0 1020.3 L462.7 1020.4 L464.4 1020.6 L466.1 1021.1 L467.8 1021.8 L469.4 1022.7 L471.0 1023.8 L472.6 1025.2 L474.2 1026.6 L475.7 1028.2 L477.2 1029.9 L478.6 1031.8 L480.1 1033.7 L481.5 1035.6 L483.0 1037.6 L484.4 1039.7 L485.8 1041.7 L487.2 1043.7 L488.5 1045.7 L489.9 1047.5 L491.3 1049.4 L492.7 1051.1 L494.1 1052.7 L495.5 1054.2 L496.8 1055.7 L498.2 1057.2 L499.6 1058.6 L501.0 1060.0 L502.4 1061.4 L503.8 1062.8 L505.1 1064.2 L506.5 1065.7 L507.9 1067.2 L509.3 1068.8 L510.7 1070.4 L512.1 1072.0 L513.5 1073.6 L514.9 1075.3 L516.4 1076.9 L517.8 1078.6 L519.3 1080.3 L520.8 1081.9 L522.3 1083.6 L523.9 1085.2 L525.4 1086.9 L527.0 1088.5 L528.6 1090.0 L530.3 1091.4 L532.0 1092.8 L533.7 1094.0 L535.5 1095.0 L537.3 1095.9 L539.2 1096.6 L541.1 1097.0 L543.0 1097.2 L545.0 1097.2 L547.0 1097.0 L549.0 1096.6 L551.0 1096.0 L553.0 1095.3 L555.0 1094.4 L557.0 1093.4 L558.9 1092.2 L560.8 1091.0 L562.6 1089.6 L564.4 1088.2 L566.1 1086.7 L567.7 1085.2 L569.2 1083.6 L570.6 1082.0 L571.9 1080.4 L573.1 1078.7 L574.2 1077.1 L575.3 1075.4 L576.3 1073.8 L577.2 1072.2 L578.1 1070.6 L578.9 1069.1 L579.7 1067.6 L580.5 1066.1 L581.2 1064.7 L581.9 1063.3 L582.7 1062.0 L583.4 1060.8 L584.0 1059.5 L584.7 1058.3 L585.4 1057.0 L586.1 1055.6 L586.8 1054.2 L587.5 1052.7 L588.2 1051.0 L588.9 1049.3 L589.6 1047.6 L590.4 1045.7 L591.1 1043.8 L591.8 1041.9 L592.5 1039.9 L593.2 1037.9 L594.0 1035.8 L594.7 1033.8 L595.4 1031.7 L596.1 1029.7 L596.9 1027.6 L597.6 1025.5 L598.3 1023.5 L599.0 1021.4 L599.8 1019.3 L600.5 1017.3 L601.2 1015.2 L601.9 1013.1 L602.7 1011.1 L603.4 1009.0 L604.1 1006.9 L604.8 1004.8 L605.5 1002.8 L606.3 1000.7 L607.0 998.6 L607.7 996.6 L608.4 994.5 L609.1 992.4 L609.9 990.4 L610.6 988.3 L611.3 986.2 L612.0 984.2 L612.7 982.1 L613.4 980.0 L614.2 978.0 L614.9 975.9 L615.6 973.8 L616.3 971.8 L617.0 969.7 L617.7 967.7 L618.4 965.6 L619.2 963.6 L619.9 961.5 L620.6 959.5 L621.3 957.4 L622.0 955.4 L622.7 953.3 L623.4 951.3 L624.1 949.2 L624.8 947.2 L625.5 945.2 L626.2 943.1 L626.9 941.1 L627.6 939.1 L628.3 937.1 L629.0 935.0 L629.7 933.0 L630.4 931.0 L631.1 929.0 L631.8 927.0 L632.5 925.0 L633.2 923.0 L633.9 921.0 L634.6 919.0 L635.3 917.0 L636.0 915.0 L636.7 913.0 L637.4 911.0 L638.1 909.0 L638.7 907.1 L639.4 905.1 L640.1 903.1 L640.8 901.1 L641.5 899.1 L642.2 897.2 L642.9 895.2 L643.5 893.2 L644.2 891.2 L644.9 889.2 L645.6 887.3 L646.3 885.3 L646.9 883.3 L647.6 881.3 L648.3 879.4 L649.0 877.4 L649.6 875.4 L650.3 873.4 L651.0 871.4 L651.7 869.5 L652.4 867.5 L653.0 865.5 L653.7 863.5 L654.4 861.5 L655.0 859.5 L655.7 857.5 L656.4 855.6 L657.1 853.6 L657.7 851.6 L658.4 849.6 L659.1 847.6 L659.7 845.6 L660.4 843.6 L661.1 841.5 L661.7 839.5 L662.4 837.5 L663.1 835.5 L663.8 833.5 L664.4 831.4 L665.1 829.4 L665.8 827.4 L666.4 825.3 L667.1 823.3 L667.8 821.3 L668.4 819.2 L669.1 817.1 L669.8 815.1 L670.4 813.0 L671.1 811.0 L671.8 808.9 L672.4 806.8 L673.1 804.7 L673.7 802.6 L674.4 800.5 L675.1 798.4 L675.7 796.3 L676.4 794.2 L677.1 792.1 L677.7 789.9 L678.4 787.8 L679.1 785.7 L679.7 783.5 L680.4 781.4 L681.1 779.2 L681.7 777.0 L682.4 774.9 L683.1 772.7 L683.7 770.5 L684.4 768.3 L685.1 766.1 L685.8 763.9 L686.4 761.7 L687.1 759.6 L687.8 757.4 L688.6 755.2 L689.3 753.1 L690.0 750.9 L690.8 748.8 L691.6 746.7 L692.3 744.6 L693.1 742.5 L694.0 740.5 L694.8 738.4 L695.7 736.4 L696.6 734.5 L697.5 732.5 L698.4 730.6 L699.3 728.7 L700.3 726.9 L701.3 725.0 L702.4 723.3 L703.5 721.5 L704.6 719.8 L705.7 718.2 L706.9 716.6 L708.1 715.0 L709.3 713.5 L710.6 712.0 L711.9 710.6 L713.2 709.2 L714.6 707.9 L716.1 706.7 L717.5 705.5 L719.1 704.4 L720.6 703.3 L722.2 702.3 L723.9 701.4 L725.6 700.5 L727.4 699.7 L729.2 699.0 L731.1 698.4 L733.0 697.8 L734.9 697.3 L736.9 696.9 L738.9 696.5 L741.0 696.2 L743.1 696.0 L745.2 695.8 L747.3 695.7 L749.5 695.7 L751.6 695.7 L753.8 695.8 L756.0 695.9 L758.2 696.2 L760.4 696.4 L762.6 696.8 L764.8 697.2 L767.0 697.6 L769.2 698.1 L771.4 698.7 L773.6 699.3 L775.7 700.0 L777.8 700.7 L780.0 701.5 L782.1 702.3 L784.1 703.1 L786.2 703.9 L788.3 704.8 L790.4 705.7 L792.4 706.6 L794.4 707.4 L796.5 708.3 L798.5 709.2 L800.5 710.0 L802.5 710.9 L804.5 711.7 L806.5 712.4 L808.5 713.2 L810.5 713.9 L812.5 714.5 L814.5 715.1 L816.5 715.6 L818.4 716.1 L820.4 716.5 L822.4 716.8 L824.4 717.1 L826.4 717.2 L828.3 717.3 L830.3 717.3 L832.3 717.1 L834.3 716.9 L836.3 716.5 L838.3 716.1 L840.3 715.5 L842.2 714.9 L844.2 714.1 L846.2 713.3 L848.2 712.3 L850.1 711.3 L852.0 710.3 L853.9 709.1 L855.8 707.9 L857.7 706.6 L859.5 705.3 L861.3 703.9 L863.1 702.5 L864.9 701.0 L866.6 699.5 L868.2 697.9 L869.9 696.4 L871.4 694.8 L873.0 693.2 L874.5 691.5 L875.9 689.9 L877.3 688.2 L878.7 686.5 L880.0 684.8 L881.3 683.1 L882.6 681.4 L883.8 679.6 L885.0 677.8 L886.2 676.1 L887.3 674.3 L888.4 672.5 L889.5 670.6 L890.6 668.8 L891.6 667.0 L892.6 665.1 L893.6 663.2 L894.5 661.4 L895.5 659.5 L896.4 657.6 L897.3 655.7 L898.2 653.8 L899.1 651.9 L900.0 650.0 L900.9 648.0 L901.7 646.1 L902.6 644.2 L903.4 642.2 L904.2 640.3 L905.0 638.3 L905.8 636.4 L906.6 634.4 L907.4 632.4 L908.2 630.5 L909.0 628.5 L909.8 626.5 L910.6 624.5 L911.3 622.6 L912.1 620.6 L912.8 618.6 L913.6 616.6 L914.3 614.6 L915.0 612.6 L915.7 610.6 L916.5 608.6 L917.2 606.6 L917.9 604.5 L918.6 602.5 L919.3 600.5 L920.0 598.5 L920.7 596.5 L921.4 594.4 L922.1 592.4 L922.7 590.4 L923.4 588.3 L924.1 586.3 L924.8 584.3 L925.4 582.2 L926.1 580.2 L926.8 578.2 L927.4 576.1 L928.1 574.1 L928.8 572.0 L929.4 570.0 L930.1 567.9 L930.7 565.9 L931.4 563.9 L932.1 561.8 L932.7 559.8 L933.4 557.7 L934.0 555.7 L934.7 553.6 L935.3 551.6 L936.0 549.5 L936.7 547.5 L937.3 545.5 L938.0 543.4 L938.6 541.4 L939.3 539.3 L940.0 537.3 L940.7 535.3 L941.3 533.2 L942.0 531.2 L942.7 529.2 L943.4 527.1 L944.0 525.1 L944.7 523.1 L945.4 521.0 L946.1 519.0 L946.8 517.0 L947.5 515.0 L948.2 513.0 L948.9 510.9 L949.6 508.9 L950.3 506.9 L951.0 504.9 L951.7 502.9 L952.4 500.9 L953.2 498.8 L953.9 496.8 L954.6 494.8 L955.3 492.8 L956.0 490.8 L956.7 488.8 L957.4 486.8 L958.2 484.8 L958.9 482.8 L959.6 480.8 L960.3 478.8 L961.0 476.8 L961.7 474.8 L962.5 472.8 L963.2 470.8 L963.9 468.8 L964.6 466.8 L965.3 464.8 L966.0 462.8 L966.7 460.8 L967.4 458.8 L968.2 456.8 L968.9 454.8 L969.6 452.8 L970.3 450.8 L971.0 448.8 L971.7 446.8 L972.4 444.8 L973.0 442.8 L973.7 440.8 L974.4 438.8 L975.1 436.8 L975.8 434.8 L976.5 432.8 L977.1 430.8 L977.8 428.8 L978.5 426.8 L979.2 424.8 L979.8 422.8 L980.5 420.8 L981.1 418.8 L981.8 416.8 L982.5 414.8 L983.1 412.8 L983.8 410.8 L984.5 408.8 L985.1 406.8 L985.8 404.8 L986.5 402.8 L987.2 400.8 L987.9 398.8 L988.7 396.8 L989.4 394.8 L990.2 392.9 L990.9 390.9 L991.7 388.9 L992.5 386.9 L993.3 385.0 L994.1 383.0 L995.0 381.0 L995.8 379.1 L996.7 377.1 L997.6 375.2 L998.6 373.2 L999.5 371.3 L1000.5 369.4 L1001.5 367.4 L1002.5 365.5 L1003.6 363.6 L1004.7 361.7 L1005.8 359.8 L1007.0 357.9 L1008.1 356.0 L1009.4 354.1 L1010.6 352.2 L1011.9 350.4 L1013.2 348.5 L1014.6 346.7 L1016.0 344.9 L1017.4 343.1 L1018.9 341.4 L1020.4 339.7 L1021.9 338.0 L1023.5 336.5 L1025.1 335.0 L1026.8 333.6 L1028.5 332.3 L1030.3 331.1 L1032.1 330.0 L1033.9 329.0 L1035.8 328.2 L1037.7 327.4 L1039.7 326.9 L1041.6 326.4 L1043.7 326.0 L1045.7 325.8 L1047.8 325.7 L1049.8 325.7 L1051.9 325.8 L1053.9 326.0 L1056.0 326.3 L1058.0 326.7 L1060.1 327.2 L1062.1 327.8 L1064.0 328.5 L1065.9 329.3 L1067.8 330.2 L1069.7 331.1 L1071.4 332.1 L1073.2 333.2 L1074.9 334.3 L1076.5 335.6 L1078.1 336.9 L1079.6 338.2 L1081.1 339.6 L1082.6 341.1 L1084.0 342.6 L1085.3 344.2 L1086.7 345.8 L1088.0 347.4 L1089.2 349.1 L1090.4 350.9 L1091.6 352.7 L1092.8 354.5 L1093.9 356.3 L1095.0 358.2 L1096.1 360.1 L1097.2 362.1 L1098.2 364.0 L1099.2 366.0 L1100.2 368.0 L1101.2 370.0 L1102.1 372.0 L1103.1 374.0 L1104.0 376.0 L1104.9 378.1 L1105.8 380.1 L1106.7 382.1 L1107.6 384.1 L1108.5 386.2 L1109.4 388.2 L1110.2 390.2 L1111.1 392.2 L1111.9 394.2 L1112.7 396.3 L1113.6 398.3 L1114.4 400.3 L1115.2 402.3 L1116.0 404.3 L1116.8 406.4 L1117.5 408.4 L1118.3 410.4 L1119.1 412.4 L1119.8 414.4 L1120.6 416.5 L1121.3 418.5 L1122.1 420.5 L1122.8 422.5 L1123.5 424.5 L1124.3 426.6 L1125.0 428.6 L1125.7 430.6 L1126.4 432.6 L1127.1 434.6 L1127.8 436.6 L1128.5 438.7 L1129.1 440.7 L1129.8 442.7 L1130.5 444.7 L1131.2 446.7 L1131.8 448.8 L1132.5 450.8 L1133.1 452.8 L1133.8 454.8 L1134.4 456.8 L1135.1 458.8 L1135.7 460.9 L1136.4 462.9 L1137.0 464.9 L1137.6 466.9 L1138.3 468.9 L1138.9 471.0 L1139.5 473.0 L1140.1 475.0 L1140.8 477.0 L1141.4 479.0 L1142.0 481.1 L1142.6 483.1 L1143.2 485.1 L1143.9 487.1 L1144.5 489.2 L1145.1 491.2 L1145.7 493.2 L1146.3 495.2 L1147.0 497.2 L1147.6 499.3 L1148.2 501.3 L1148.8 503.3 L1149.4 505.3 L1150.0 507.4 L1150.7 509.4 L1151.3 511.4 L1151.9 513.5 L1152.5 515.5 L1153.2 517.5 L1153.8 519.6 L1154.4 521.6 L1155.1 523.6 L1155.7 525.6 L1156.3 527.7 L1157.0 529.7 L1157.6 531.8 L1158.3 533.8 L1158.9 535.8 L1159.6 537.9 L1160.2 539.9 L1160.9 541.9 L1161.6 544.0 L1162.2 546.0 L1162.9 548.0 L1163.5 550.1 L1164.2 552.1 L1164.9 554.2 L1165.5 556.2 L1166.2 558.2 L1166.9 560.3 L1167.6 562.3 L1168.2 564.4 L1168.9 566.4 L1169.6 568.5 L1170.3 570.5 L1171.0 572.5 L1171.6 574.6 L1172.3 576.6 L1173.0 578.7 L1173.7 580.7 L1174.4 582.7 L1175.1 584.8 L1175.8 586.8 L1176.5 588.9 L1177.2 590.9 L1177.8 593.0 L1178.5 595.0 L1179.2 597.0 L1179.9 599.1 L1180.6 601.1 L1181.3 603.2 L1182.0 605.2 L1182.7 607.2 L1183.4 609.3 L1184.1 611.3 L1184.8 613.4 L1185.5 615.4 L1186.2 617.4 L1186.9 619.5 L1187.6 621.5 L1188.3 623.6 L1189.0 625.6 L1189.7 627.6 L1190.4 629.7 L1191.1 631.7 L1191.8 633.7 L1192.5 635.8 L1193.2 637.8 L1193.9 639.8 L1194.6 641.9 L1195.3 643.9 L1196.0 645.9 L1196.7 647.9 L1197.4 650.0 L1198.1 652.0 L1198.8 654.0 L1199.5 656.1 L1200.2 658.1 L1200.9 660.1 L1201.6 662.1 L1202.2 664.2 L1202.9 666.2 L1203.6 668.2 L1204.3 670.2 L1205.0 672.2 L1205.7 674.2 L1206.4 676.3 L1207.0 678.3 L1207.7 680.3 L1208.4 682.3 L1209.1 684.3 L1209.8 686.3 L1210.4 688.3 L1211.1 690.3 L1211.8 692.3 L1212.5 694.3 L1213.2 696.4 L1213.9 698.4 L1214.5 700.3 L1215.2 702.3 L1215.9 704.3 L1216.6 706.3 L1217.3 708.3 L1218.1 710.3 L1218.8 712.3 L1219.5 714.3 L1220.2 716.2 L1221.0 718.2 L1221.8 720.2 L1222.5 722.1 L1223.3 724.1 L1224.1 726.1 L1224.9 728.0 L1225.7 730.0 L1226.5 731.9 L1227.4 733.9 L1228.2 735.8 L1229.1 737.7 L1230.0 739.7 L1230.9 741.6 L1231.8 743.5 L1232.8 745.4 L1233.7 747.4 L1234.7 749.3 L1235.7 751.2 L1236.7 753.1 L1237.8 755.0 L1238.8 756.8 L1239.9 758.7 L1241.0 760.6 L1242.2 762.5 L1243.3 764.3 L1244.5 766.2 L1245.7 768.0 L1246.9 769.9 L1248.2 771.7 L1249.5 773.5 L1250.8 775.4 L1252.1 777.2 L1253.5 779.0 L1254.9 780.7 L1256.3 782.5 L1257.8 784.2 L1259.2 785.9 L1260.7 787.5 L1262.3 789.2 L1263.8 790.7 L1265.4 792.3 L1267.0 793.8 L1268.6 795.2 L1270.2 796.6 L1271.9 797.9 L1273.6 799.2 L1275.3 800.4 L1277.0 801.5 L1278.8 802.6 L1280.6 803.6 L1282.4 804.5 L1284.2 805.3 L1286.0 806.1 L1287.9 806.7 L1289.8 807.3 L1291.7 807.8 L1293.6 808.1 L1295.6 808.4 L1297.5 808.6 L1299.5 808.6 L1301.5 808.6 L1303.5 808.5 L1305.6 808.3 L1307.6 808.0 L1309.7 807.7 L1311.8 807.3 L1313.9 806.8 L1316.0 806.3 L1318.1 805.7 L1320.2 805.1 L1322.3 804.5 L1324.5 803.8 L1326.6 803.1 L1328.8 802.4 L1330.9 801.7 L1333.1 801.1 L1335.2 800.4 L1337.4 799.7 L1339.6 799.0 L1341.7 798.4 L1343.9 797.8 L1346.1 797.2 L1348.2 796.7 L1350.4 796.2 L1352.5 795.7 L1354.7 795.3 L1356.8 794.9 L1358.9 794.6 L1361.1 794.3 L1363.2 794.1 L1365.3 794.0 L1367.4 793.9 L1369.5 793.8 L1371.5 793.9 L1373.6 794.0 L1375.6 794.2 L1377.6 794.4 L1379.6 794.8 L1381.6 795.2 L1383.6 795.7 L1385.6 796.2 L1387.5 796.8 L1389.4 797.5 L1391.3 798.2 L1393.2 799.1 L1395.1 799.9 L1396.9 800.9 L1398.8 801.8 L1400.6 802.9 L1402.3 804.0 L1404.1 805.1 L1405.8 806.3 L1407.6 807.6 L1409.2 808.9 L1410.9 810.2 L1412.6 811.6 L1414.2 813.0 L1415.8 814.4 L1417.3 815.9 L1418.9 817.5 L1420.4 819.0 L1421.9 820.6 L1423.3 822.3 L1424.8 823.9 L1426.2 825.6 L1427.5 827.3 L1428.9 829.1 L1430.2 830.8 L1431.5 832.6 L1432.7 834.4 L1434.0 836.2 L1435.1 838.0 L1436.3 839.9 L1437.4 841.7 L1438.5 843.6 L1439.6 845.5 L1440.7 847.3 L1441.7 849.3 L1442.7 851.2 L1443.6 853.1 L1444.6 855.0 L1445.5 857.0 L1446.4 858.9 L1447.3 860.9 L1448.2 862.9 L1449.0 864.9 L1449.9 866.8 L1450.7 868.8 L1451.5 870.8 L1452.3 872.8 L1453.1 874.9 L1453.8 876.9 L1454.6 878.9 L1455.3 880.9 L1456.0 883.0 L1456.8 885.0 L1457.5 887.0 L1458.2 889.1 L1458.9 891.1 L1459.6 893.1 L1460.3 895.2 L1461.0 897.2 L1461.7 899.2 L1462.4 901.3 L1463.0 903.3 L1463.7 905.3 L1464.4 907.4 L1465.1 909.4 L1465.8 911.4 L1466.5 913.4 L1467.2 915.4 L1468.0 917.4 L1468.7 919.4 L1469.4 921.4 L1470.2 923.4 L1470.9 925.4 L1471.7 927.3 L1472.4 929.3 L1473.2 931.2 L1474.0 933.2 L1474.8 935.1 L1475.6 937.1 L1476.4 939.0 L1477.3 940.9 L1478.1 942.9 L1478.9 944.8 L1479.8 946.7 L1480.6 948.6 L1481.5 950.5 L1482.3 952.4 L1483.2 954.3 L1484.0 956.3 L1484.9 958.2 L1485.8 960.1 L1486.6 962.0 L1487.5 963.9 L1488.4 965.8 L1489.2 967.7 L1490.1 969.6 L1491.0 971.5 L1491.9 973.4 L1492.7 975.3 L1493.6 977.2 L1494.5 979.2 L1495.3 981.1 L1496.2 983.0 L1497.0 984.9 L1497.9 986.9 L1498.8 988.8 L1499.6 990.7 L1500.4 992.7 L1501.3 994.6 L1502.1 996.6 L1502.9 998.6 L1503.8 1000.6 L1504.6 1002.5 L1505.4 1004.5 L1506.2 1006.5 L1506.9 1008.5 L1507.7 1010.6 L1508.5 1012.6 L1509.3 1014.6 L1510.0 1016.7 L1510.8 1018.7 L1511.5 1020.8 L1512.2 1022.8 L1513.0 1024.9 L1513.7 1027.0 L1514.4 1029.1 L1515.1 1031.1 L1515.8 1033.2 L1516.5 1035.3 L1517.2 1037.4 L1517.9 1039.5 L1518.6 1041.6 L1519.3 1043.7 L1520.0 1045.8 L1520.7 1048.0 L1521.4 1050.1 L1522.1 1052.2 L1522.8 1054.3 L1523.5 1056.4 L1524.2 1058.5 L1524.9 1060.6 L1525.7 1062.7 L1526.4 1064.8 L1527.1 1066.9 L1527.8 1069.0 L1528.5 1071.1 L1529.3 1073.2 L1530.0 1075.2 L1530.8 1077.3 L1531.5 1079.4 L1532.3 1081.4 L1533.1 1083.5 L1533.9 1085.5 L1534.6 1087.6 L1535.5 1089.6 L1536.3 1091.6 L1537.1 1093.6 L1537.9 1095.6 L1538.8 1097.6 L1539.6 1099.6 L1540.5 1101.6 L1541.4 1103.5 L1542.3 1105.5 L1543.2 1107.4 L1544.2 1109.3 L1545.1 1111.2 L1546.1 1113.1 L1547.1 1115.0 L1548.1 1116.9 L1549.1 1118.7 L1550.1 1120.6 L1551.2 1122.4 L1552.2 1124.2 L1553.3 1126.0 L1554.4 1127.7 L1555.6 1129.5 L1556.7 1131.2 L1557.9 1132.9 L1559.1 1134.6 L1560.3 1136.3 L1561.6 1137.9 L1562.9 1139.5 L1564.1 1141.1 L1565.5 1142.7 L1566.8 1144.3 L1568.2 1145.8 L1569.6 1147.3 L1571.0 1148.8 L1572.5 1150.3 L1573.9 1151.7 L1575.5 1153.1 L1577.0 1154.5 L1578.6 1155.9 L1580.2 1157.2 L1581.8 1158.5 L1583.4 1159.8 L1585.1 1161.0 L1586.8 1162.2 L1588.5 1163.3 L1590.3 1164.3 L1592.1 1165.4 L1593.9 1166.3 L1595.7 1167.2 L1597.5 1168.1 L1599.4 1168.9 L1601.3 1169.6 L1603.2 1170.2 L1605.1 1170.8 L1607.0 1171.3 L1609.0 1171.7 L1611.0 1172.0 L1613.0 1172.2 L1615.0 1172.4 L1617.0 1172.4 L1619.1 1172.4 L1621.1 1172.2 L1623.2 1172.0 L1625.3 1171.6 L1627.4 1171.2 L1629.5 1170.7 L1631.6 1170.1 L1633.7 1169.5 L1635.9 1168.7 L1638.0 1168.0 L1640.1 1167.2 L1642.3 1166.3 L1644.4 1165.4 L1646.6 1164.5 L1648.7 1163.6 L1650.9 1162.7 L1653.0 1161.8 L1655.2 1160.9 L1657.3 1160.0 L1659.5 1159.2 L1661.6 1158.4 L1663.7 1157.6 L1665.8 1156.9 L1667.9 1156.2 L1670.0 1155.6 L1672.1 1155.1 L1674.2 1154.7 L1676.2 1154.3 L1678.3 1154.1 L1680.3 1153.9 L1682.3 1153.9 L1684.3 1154.0 L1686.2 1154.2 L1688.2 1154.5 L1690.1 1154.9 L1692.0 1155.5 L1693.9 1156.1 L1695.7 1156.8 L1697.6 1157.6 L1699.4 1158.5 L1701.2 1159.5 L1703.0 1160.6 L1704.8 1161.7 L1706.5 1162.9 L1708.2 1164.2 L1710.0 1165.6 L1711.6 1167.0 L1713.3 1168.4 L1715.0 1169.9 L1716.6 1171.5 L1718.3 1173.1 L1719.9 1174.7 L1721.4 1176.4 L1723.0 1178.1 L1724.6 1179.8 L1726.1 1181.5 L1727.6 1183.3 L1729.1 1185.1 L1730.6 1186.8 L1732.1 1188.6 L1733.5 1190.4 L1735.0 1192.2 L1736.4 1194.0 L1737.8 1195.7 L1739.2 1197.5 L1740.5 1199.2 L1741.9 1200.9 L1743.2 1202.6 L1744.5 1204.3 L1745.8 1205.9 L1747.1 1207.4 L1748.4 1209.0 L1749.7 1210.5 L1751.0 1211.9 L1752.3 1213.3 L1753.7 1214.7 L1755.1 1216.1 L1756.6 1217.4 L1758.2 1218.6 L1759.9 1219.9 L1761.7 1221.1 L1763.6 1222.3 L1765.7 1223.4 L1767.8 1224.5 L1770.0 1225.5 L1772.2 1226.3 L1774.4 1226.9 L1776.4 1227.1 L1778.3 1227.0 L1780.1 1226.7 L1781.7 1226.0 L1783.3 1225.1 L1784.7 1223.9 L1786.0 1222.6 L1787.2 1221.0 L1788.4 1219.4 L1789.4 1217.6 L1790.5 1215.7 L1791.5 1213.8 L1792.4 1211.8 L1793.3 1209.8 L1794.2 1207.8 L1795.1 1205.8 L1796.0 1203.8 L1796.8 1201.8 L1797.7 1199.8 L1798.5 1197.7 L1799.3 1195.7 L1800.0 1193.7 L1800.8 1191.7 L1801.5 1189.6 L1802.2 1187.6 L1802.9 1185.5 L1803.6 1183.5 L1804.3 1181.5 L1804.9 1179.4 L1805.5 1177.3 L1806.2 1175.3 L1806.8 1173.2 L1807.3 1171.2 L1807.9 1169.1 L1808.5 1167.0 L1809.0 1164.9 L1809.5 1162.9 L1810.1 1160.8 L1810.6 1158.7 L1811.0 1156.6 L1811.5 1154.5 L1812.0 1152.4 L1812.4 1150.3 L1812.9 1148.2 L1813.3 1146.1 L1813.7 1144.0 L1814.2 1141.9 L1814.6 1139.8 L1815.0 1137.7 L1815.3 1135.6 L1815.7 1133.5 L1816.1 1131.4 L1816.5 1129.3 L1816.8 1127.2 L1817.2 1125.1 L1817.5 1123.0 L1817.8 1120.8 L1818.2 1118.7 L1818.5 1116.6 L1818.8 1114.5 L1819.1 1112.4 L1819.4 1110.2 L1819.7 1108.1 L1820.0 1106.0 L1820.3 1103.9 L1820.6 1101.7 L1820.9 1099.6 L1821.2 1097.5 L1821.5 1095.4 L1821.8 1093.2 L1822.1 1091.1 L1822.3 1089.0 L1822.6 1086.9 L1822.9 1084.7 L1823.2 1082.6 L1823.5 1080.5 L1823.7 1078.3 L1824.0 1076.2 L1824.3 1074.1 L1824.6 1072.0 L1824.9 1069.9 L1825.2 1067.7 L1825.5 1065.6 L1825.8 1063.5 L1826.1 1061.4 L1826.4 1059.2 L1826.7 1057.1 L1827.0 1055.0 L1827.3 1052.9 L1827.6 1050.8 L1827.9 1048.7 L1828.2 1046.5 L1828.5 1044.4 L1828.8 1042.3 L1829.1 1040.2 L1829.4 1038.1 L1829.7 1035.9 L1830.0 1033.8 L1830.3 1031.7 L1830.6 1029.6 L1830.9 1027.5 L1831.2 1025.4 L1831.4 1023.3 L1831.7 1021.1 L1832.0 1019.0 L1832.3 1016.9 L1832.6 1014.8 L1832.9 1012.7 L1833.2 1010.6 L1833.5 1008.4 L1833.7 1006.3 L1834.0 1004.2 L1834.3 1002.1 L1834.6 1000.0 L1834.8 997.8 L1835.1 995.7 L1835.4 993.6 L1835.6 991.5 L1835.9 989.4 L1836.1 987.2 L1836.4 985.1 L1836.6 983.0 L1836.9 980.9 L1837.1 978.8 L1837.3 976.6 L1837.6 974.5 L1837.8 972.4 L1838.0 970.3 L1838.2 968.1 L1838.4 966.0 L1838.6 963.9 L1838.8 961.7 L1839.0 959.6 L1839.2 957.5 L1839.4 955.4 L1839.6 953.2 L1839.7 951.1 L1839.9 949.0 L1840.0 946.8 L1840.2 944.7 L1840.3 942.5 L1840.5 940.4 L1840.6 938.3 L1840.7 936.1 L1840.8 934.0 L1841.0 931.8 L1841.1 929.7 L1841.1 927.5 L1841.2 925.4 L1841.3 923.2 L1841.4 921.1 L1841.4 918.9 L1841.5 916.8 L1841.5 914.6 L1841.6 912.5 L1841.6 910.3' stroke='#008000' stroke-width='7.2' fill='none' stroke-linejoin='round' stroke-linecap='butt'/>
</g>
<rect x='223.5' y='95.5' width='1696.5' height='1279.7' fill='none' stroke='#000' stroke-width='3.9' stroke-linejoin='miter'/>
<path d='M291.70 1375.20v17.5M503.56 1375.20v17.5M715.43 1375.20v17.5M927.30 1375.20v17.5M1139.16 1375.20v17.5M1351.03 1375.20v17.5M1562.89 1375.20v17.5M1774.76 1375.20v17.5M223.50 237.90h-17.5M223.50 409.03h-17.5M223.50 580.16h-17.5M223.50 751.29h-17.5M223.50 922.42h-17.5M223.50 1093.55h-17.5M223.50 1264.68h-17.5' stroke='#000' stroke-width='3.9' fill='none'/>
<rect x='1450.6' y='118.4' width='445.0' height='234.99999999999997' rx='8' fill='#fff' fill-opacity='0.8' stroke='#cccccc' stroke-opacity='0.8' stroke-width='3.12'/>
<path d='M1466.4 158.6H1568.4' stroke='#0000ff' stroke-width='6.6'/>
<path d='M1466.4 232.4H1568.4' stroke='#ffa500' stroke-width='6.6'/>
<path d='M1466.4 305.3H1568.4' stroke='#008000' stroke-width='6.6'/>
<clipPath id='c1720'><rect x='353.7' y='1720.2' width='1504.8' height='1136.8'/></clipPath>
<path d='M378.10 1720.20V2857.00M598.75 1720.20V2857.00M819.40 1720.20V2857.00M1040.05 1720.20V2857.00M1260.70 1720.20V2857.00M1481.35 1720.20V2857.00M1702.00 1720.20V2857.00M353.70 1789.20H1858.50M353.70 2031.15H1858.50M353.70 2273.10H1858.50M353.70 2515.05H1858.50M353.70 2757.00H1858.50' stroke='#b0b0b0' stroke-width='3.3' fill='none'/>
<g clip-path='url(#c1720)'>
<g fill='#1f77b4'><circle cx='422.2' cy='2708.6' r='8.5'/><circle cx='466.4' cy='2740.1' r='8.5'/><circle cx='510.5' cy='2805.4' r='8.5'/><circle cx='554.6' cy='2619.6' r='8.5'/><circle cx='598.8' cy='2740.1' r='8.5'/><circle cx='642.9' cy='2732.3' r='8.5'/><circle cx='687.0' cy='2660.2' r='8.5'/><circle cx='731.1' cy='2708.1' r='8.5'/><circle cx='775.3' cy='2660.2' r='8.5'/><circle cx='819.4' cy='2611.8' r='8.5'/><circle cx='863.5' cy='2757.0' r='8.5'/><circle cx='907.7' cy='2757.0' r='8.5'/><circle cx='951.8' cy='2757.0' r='8.5'/><circle cx='995.9' cy='2757.0' r='8.5'/><circle cx='1040.1' cy='2757.0' r='8.5'/><circle cx='1084.2' cy='2636.0' r='8.5'/><circle cx='1128.3' cy='2669.9' r='8.5'/><circle cx='1172.4' cy='2483.6' r='8.5'/><circle cx='1216.6' cy='2539.2' r='8.5'/><circle cx='1260.7' cy='2805.4' r='8.5'/><circle cx='1304.8' cy='2553.3' r='8.5'/><circle cx='1349.0' cy='2547.5' r='8.5'/><circle cx='1393.1' cy='2452.6' r='8.5'/><circle cx='1437.2' cy='2527.1' r='8.5'/><circle cx='1481.3' cy='2539.7' r='8.5'/><circle cx='1525.5' cy='2507.8' r='8.5'/><circle cx='1569.6' cy='2479.2' r='8.5'/><circle cx='1613.7' cy='2611.8' r='8.5'/><circle cx='1657.9' cy='2534.4' r='8.5'/><circle cx='1702.0' cy='2623.9' r='8.5'/><circle cx='1746.1' cy='2515.5' r='8.5'/><circle cx='1790.3' cy='2563.0' r='8.5'/></g>
<g fill='#ff7f0e'><circle cx='422.2' cy='2280.4' r='8.5'/><circle cx='466.4' cy='2321.5' r='8.5'/><circle cx='510.5' cy='2563.4' r='8.5'/><circle cx='554.6' cy='2563.4' r='8.5'/><circle cx='598.8' cy='2602.2' r='8.5'/><circle cx='642.9' cy='2563.4' r='8.5'/><circle cx='687.0' cy='2533.4' r='8.5'/><circle cx='731.1' cy='2515.1' r='8.5'/><circle cx='775.3' cy='2611.8' r='8.5'/><circle cx='819.4' cy='2757.0' r='8.5'/><circle cx='863.5' cy='2757.0' r='8.5'/><circle cx='907.7' cy='2418.8' r='8.5'/><circle cx='951.8' cy='2153.1' r='8.5'/><circle cx='995.9' cy='2261.0' r='8.5'/><circle cx='1040.1' cy='2121.2' r='8.5'/><circle cx='1084.2' cy='2757.0' r='8.5'/><circle cx='1128.3' cy='2249.4' r='8.5'/><circle cx='1172.4' cy='2328.3' r='8.5'/><circle cx='1216.6' cy='2442.5' r='8.5'/><circle cx='1260.7' cy='2507.8' r='8.5'/><circle cx='1304.8' cy='2505.9' r='8.5'/><circle cx='1349.0' cy='2327.8' r='8.5'/><circle cx='1393.1' cy='2402.8' r='8.5'/><circle cx='1437.2' cy='2285.7' r='8.5'/><circle cx='1481.3' cy='2267.3' r='8.5'/><circle cx='1525.5' cy='2452.1' r='8.5'/><circle cx='1569.6' cy='2419.2' r='8.5'/><circle cx='1613.7' cy='2557.1' r='8.5'/><circle cx='1657.9' cy='2610.9' r='8.5'/><circle cx='1702.0' cy='2599.7' r='8.5'/><circle cx='1746.1' cy='2364.6' r='8.5'/><circle cx='1790.3' cy='2297.8' r='8.5'/></g>
<g fill='#2ca02c'><circle cx='422.2' cy='2079.5' r='8.5'/><circle cx='466.4' cy='2208.3' r='8.5'/><circle cx='510.5' cy='2285.7' r='8.5'/><circle cx='554.6' cy='2233.9' r='8.5'/><circle cx='598.8' cy='2362.6' r='8.5'/><circle cx='642.9' cy='2214.1' r='8.5'/><circle cx='687.0' cy='2160.4' r='8.5'/><circle cx='731.1' cy='2166.6' r='8.5'/><circle cx='775.3' cy='2491.8' r='8.5'/><circle cx='819.4' cy='2757.0' r='8.5'/><circle cx='863.5' cy='2370.4' r='8.5'/><circle cx='907.7' cy='2345.2' r='8.5'/><circle cx='951.8' cy='2116.3' r='8.5'/><circle cx='995.9' cy='2467.1' r='8.5'/><circle cx='1040.1' cy='2066.0' r='8.5'/><circle cx='1084.2' cy='2225.2' r='8.5'/><circle cx='1128.3' cy='2216.5' r='8.5'/><circle cx='1172.4' cy='2515.5' r='8.5'/><circle cx='1216.6' cy='2116.3' r='8.5'/><circle cx='1260.7' cy='2203.9' r='8.5'/><circle cx='1304.8' cy='1953.2' r='8.5'/><circle cx='1349.0' cy='2127.9' r='8.5'/><circle cx='1393.1' cy='1771.3' r='8.5'/><circle cx='1437.2' cy='2055.8' r='8.5'/><circle cx='1481.3' cy='2389.7' r='8.5'/><circle cx='1525.5' cy='2075.7' r='8.5'/><circle cx='1569.6' cy='1974.5' r='8.5'/><circle cx='1613.7' cy='2220.8' r='8.5'/><circle cx='1657.9' cy='2357.8' r='8.5'/><circle cx='1702.0' cy='2204.9' r='8.5'/><circle cx='1746.1' cy='2285.7' r='8.5'/><circle cx='1790.3' cy='2121.2' r='8.5'/></g>
<path d='M422.2 2708.6 L466.4 2750.7 L510.5 2765.2 L554.6 2692.2 L598.8 2684.4 L642.9 2714.9 L687.0 2718.8 L731.1 2676.7 L775.3 2644.7 L819.4 2650.1 L863.5 2701.8 L907.7 2765.2 L951.8 2795.7 L995.9 2774.4 L1040.1 2711.0 L1084.2 2641.8 L1128.3 2596.8 L1172.4 2591.5 L1216.6 2611.8 L1260.7 2623.4 L1304.8 2605.1 L1349.0 2557.1 L1393.1 2509.7 L1437.2 2487.0 L1481.3 2499.6 L1525.5 2524.7 L1569.6 2536.3 L1613.7 2538.3 L1657.9 2569.2 L1702.0 2612.8 L1746.1 2516.5 L1790.3 2562.5' stroke='#0000ff' stroke-width='6.2' fill='none' stroke-linejoin='round' stroke-linecap='butt'/>
<path d='M422.2 2280.4 L466.4 2347.1 L510.5 2486.0 L554.6 2653.9 L598.8 2605.1 L642.9 2490.9 L687.0 2488.4 L731.1 2607.5 L775.3 2703.8 L819.4 2707.2 L863.5 2595.9 L907.7 2430.4 L951.8 2300.7 L995.9 2251.3 L1040.1 2273.1 L1084.2 2348.1 L1128.3 2406.2 L1172.4 2448.3 L1216.6 2459.4 L1260.7 2451.2 L1304.8 2430.4 L1349.0 2395.5 L1393.1 2358.8 L1437.2 2324.4 L1481.3 2316.7 L1525.5 2360.2 L1569.6 2455.5 L1613.7 2562.5 L1657.9 2624.9 L1702.0 2579.9 L1746.1 2367.5 L1790.3 2296.3' stroke='#ffa500' stroke-width='6.2' fill='none' stroke-linejoin='round' stroke-linecap='butt'/>
<path d='M422.2 2079.5 L466.4 2215.0 L510.5 2246.5 L554.6 2316.2 L598.8 2287.1 L642.9 2198.1 L687.0 2176.8 L731.1 2276.0 L775.3 2442.0 L819.4 2549.4 L863.5 2529.6 L907.7 2398.4 L951.8 2241.2 L995.9 2148.3 L1040.1 2162.8 L1084.2 2248.9 L1128.3 2339.9 L1172.4 2345.2 L1216.6 2250.4 L1260.7 2101.8 L1304.8 1992.0 L1349.0 1961.0 L1393.1 2015.7 L1437.2 2097.9 L1481.3 2135.2 L1525.5 2120.7 L1569.6 2116.8 L1613.7 2176.3 L1657.9 2270.7 L1702.0 2282.3 L1746.1 2258.6 L1790.3 2123.1' stroke='#008000' stroke-width='6.2' fill='none' stroke-linejoin='round' stroke-linecap='butt'/>
</g>
<rect x='353.7' y='1720.2' width='1504.8' height='1136.8' fill='none' stroke='#000' stroke-width='3.5' stroke-linejoin='miter'/>
<path d='M378.10 2857.00v15.5M598.75 2857.00v15.5M819.40 2857.00v15.5M1040.05 2857.00v15.5M1260.70 2857.00v15.5M1481.35 2857.00v15.5M1702.00 2857.00v15.5M353.70 1789.20h-15.5M353.70 2031.15h-15.5M353.70 2273.10h-15.5M353.70 2515.05h-15.5M353.70 2757.00h-15.5' stroke='#000' stroke-width='3.5' fill='none'/>
<rect x='1442.8' y='1742.2' width='394.4000000000001' height='206.79999999999995' rx='8' fill='#fff' fill-opacity='0.8' stroke='#cccccc' stroke-opacity='0.8' stroke-width='2.80'/>
<path d='M1456.4 1777.7H1546.6' stroke='#0000ff' stroke-width='5.9'/>
<path d='M1456.4 1842.9H1546.6' stroke='#ffa500' stroke-width='5.9'/>
<path d='M1456.4 1907.1H1546.6' stroke='#008000' stroke-width='5.9'/>
<g style="font-family:'DejaVu Sans','Liberation Sans',sans-serif" fill='#000'>
<text x='723.80' y='63.80' font-size='57px'>Mac: 64:70:02:5D:C1:77</text>
<text x='89.20' y='255.94' font-size='49.5px' letter-spacing='-2.4px'>−30</text>
<text x='89.20' y='427.07' font-size='49.5px' letter-spacing='-2.4px'>−40</text>
<text x='89.20' y='598.20' font-size='49.5px' letter-spacing='-2.4px'>−50</text>
<text x='89.20' y='769.33' font-size='49.5px' letter-spacing='-2.4px'>−60</text>
<text x='89.20' y='940.46' font-size='49.5px' letter-spacing='-2.4px'>−70</text>
<text x='89.20' y='1111.59' font-size='49.5px' letter-spacing='-2.4px'>−80</text>
<text x='89.20' y='1282.72' font-size='49.5px' letter-spacing='-2.4px'>−90</text>
<text x='276.20' y='1444.50' font-size='49.5px' letter-spacing='-2.2px'>0</text>
<text x='473.06' y='1444.50' font-size='49.5px' letter-spacing='-2.2px'>25</text>
<text x='684.43' y='1444.50' font-size='49.5px' letter-spacing='-2.2px'>50</text>
<text x='896.80' y='1444.50' font-size='49.5px' letter-spacing='-2.2px'>75</text>
<text x='1093.16' y='1444.50' font-size='49.5px' letter-spacing='-2.2px'>100</text>
<text x='1305.53' y='1444.50' font-size='49.5px' letter-spacing='-2.2px'>125</text>
<text x='1516.89' y='1444.50' font-size='49.5px' letter-spacing='-2.2px'>150</text>
<text x='1729.26' y='1444.50' font-size='49.5px' letter-spacing='-2.2px'>175</text>
<text x='999.90' y='1513.90' font-size='49.5px' letter-spacing='-1.2px'>Points</text>
<text transform='translate(63.60,794.60) rotate(-90)' font-size='49.5px' letter-spacing='-0.9px'>RSSI</text>
<text x='1601.70' y='176.00' font-size='49.5px' letter-spacing='-1.1px'>Hight_0.3m</text>
<text x='1601.70' y='249.35' font-size='49.5px' letter-spacing='-1.1px'>Hight_0.9m</text>
<text x='1601.70' y='322.70' font-size='49.5px' letter-spacing='-1.1px'>Hight_1.5m</text>
<text x='797.10' y='1693.90' font-size='51.2px' letter-spacing='-0.35px'>Mac: 64:70:02:5D:C1:77</text>
<text x='235.70' y='1805.42' font-size='44.5px' letter-spacing='-2.85px'>−70</text>
<text x='235.70' y='2047.37' font-size='44.5px' letter-spacing='-2.85px'>−75</text>
<text x='235.70' y='2289.32' font-size='44.5px' letter-spacing='-2.85px'>−80</text>
<text x='235.70' y='2531.27' font-size='44.5px' letter-spacing='-2.85px'>−85</text>
<text x='235.70' y='2773.22' font-size='44.5px' letter-spacing='-2.85px'>−90</text>
<text x='364.10' y='2919.60' font-size='44.5px' letter-spacing='-3.0px'>0</text>
<text x='584.75' y='2919.60' font-size='44.5px' letter-spacing='-3.0px'>5</text>
<text x='791.40' y='2919.60' font-size='44.5px' letter-spacing='-3.0px'>10</text>
<text x='1012.55' y='2919.60' font-size='44.5px' letter-spacing='-3.0px'>15</text>
<text x='1233.70' y='2919.60' font-size='44.5px' letter-spacing='-3.0px'>20</text>
<text x='1454.85' y='2919.60' font-size='44.5px' letter-spacing='-3.0px'>25</text>
<text x='1675.00' y='2919.60' font-size='44.5px' letter-spacing='-3.0px'>30</text>
<text x='1042.50' y='2979.90' font-size='44.0px' letter-spacing='-1.5px'>Points</text>
<text transform='translate(211.80,2339.80) rotate(-90)' font-size='44.5px' letter-spacing='-1.5px'>RSSI</text>
<text x='1576.70' y='1792.50' font-size='44.5px' letter-spacing='-1.27px'>Hight_0.3m</text>
<text x='1576.70' y='1857.20' font-size='44.5px' letter-spacing='-1.27px'>Hight_0.9m</text>
<text x='1576.70' y='1921.90' font-size='44.5px' letter-spacing='-1.27px'>Hight_1.5m</text>
</g>
<rect x='252.9' y='961.8' width='473.9' height='383.2' fill='none' stroke='#a3a3a3' stroke-width='6.7'/>
<path d='M440 1345 L441.5 1729' stroke='#a3a3a3' stroke-width='7' fill='none'/>
<path d='M423 1729.2 L460.8 1728.3 L442.5 1767.8 Z' fill='#a3a3a3'/>
</svg></body></html>
